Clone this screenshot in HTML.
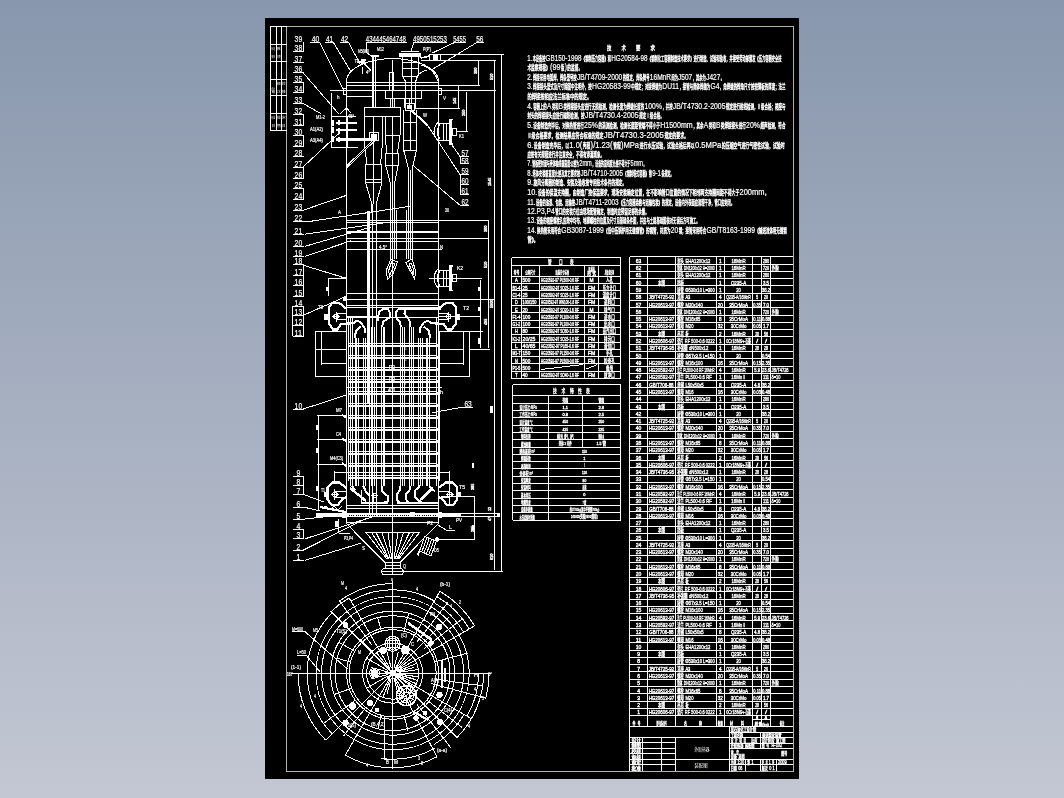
<!DOCTYPE html>
<html><head><meta charset="utf-8"><title>drawing</title>
<style>
html,body{margin:0;padding:0;width:1064px;height:798px;overflow:hidden}
body{background:linear-gradient(to bottom,#8897ad 0%,#c3c7d3 100%)}
svg{position:absolute;left:0;top:0;display:block;will-change:transform}
svg text{font-family:"Liberation Sans","Noto Sans CJK SC",sans-serif;fill:#fff;stroke:none}
svg .g{stroke:#fff;stroke-width:1;fill:none;shape-rendering:crispEdges}
svg .s{stroke:#fff;stroke-width:1;fill:none}
svg text.c{stroke:#fff;stroke-width:.42px}
svg text.d{stroke:#fff;stroke-width:.2px}
svg text.l{stroke:#fff;stroke-width:.22px}
svg .tb text{stroke:#fff;stroke-width:.38px}
</style></head><body>
<svg width="1064" height="798" viewBox="0 0 1064 798">
<rect x="265" y="18" width="534" height="761" fill="#000"/>
<g class="g">
<rect x="286.5" y="26.5" width="507" height="745" stroke="#b4b4a4"/>
<line x1="270.5" y1="26" x2="270.5" y2="131"/>
<line x1="276.5" y1="26" x2="276.5" y2="131"/>
<line x1="281.5" y1="26" x2="281.5" y2="131"/>
<line x1="270" y1="26.5" x2="287" y2="26.5"/>
<line x1="270" y1="44.5" x2="287" y2="44.5"/>
<line x1="270" y1="61.5" x2="287" y2="61.5"/>
<line x1="270" y1="79.5" x2="287" y2="79.5"/>
<line x1="270" y1="95.5" x2="287" y2="95.5"/>
<line x1="270" y1="113.5" x2="287" y2="113.5"/>
<line x1="270" y1="130.5" x2="287" y2="130.5"/>
</g>
<g>
<text x="271.5" y="50" font-size="3.6" textLength="3.6" lengthAdjust="spacingAndGlyphs" fill="#777">标记</text>
<text x="277" y="50" font-size="3.6" textLength="3.6" lengthAdjust="spacingAndGlyphs" fill="#777">数</text>
<text x="271.5" y="58" font-size="3.6" textLength="3.6" lengthAdjust="spacingAndGlyphs" fill="#777">修改</text>
<text x="277" y="58" font-size="3.6" textLength="3.6" lengthAdjust="spacingAndGlyphs" fill="#777">日期</text>
<text x="271.5" y="90" font-size="3.6" textLength="3.6" lengthAdjust="spacingAndGlyphs" fill="#777">设计</text>
<text x="277" y="85" font-size="3.6" textLength="3.6" lengthAdjust="spacingAndGlyphs" fill="#777">制图</text>
<text x="282" y="85" font-size="3.6" textLength="3.6" lengthAdjust="spacingAndGlyphs" fill="#777">校</text>
<text x="271.5" y="93" font-size="3.6" textLength="3.6" lengthAdjust="spacingAndGlyphs" fill="#777">审</text>
<text x="277" y="93" font-size="3.6" textLength="3.6" lengthAdjust="spacingAndGlyphs" fill="#777">工艺</text>
<text x="282" y="93" font-size="3.6" textLength="3.6" lengthAdjust="spacingAndGlyphs" fill="#777">核</text>
<text x="271.5" y="118.5" font-size="3.6" textLength="3.6" lengthAdjust="spacingAndGlyphs" fill="#777">标准</text>
<text x="277" y="118.5" font-size="3.6" textLength="3.6" lengthAdjust="spacingAndGlyphs" fill="#777">批准</text>
<text x="282" y="118.5" font-size="3.6" textLength="3.6" lengthAdjust="spacingAndGlyphs" fill="#777">定</text>
<text x="271.5" y="127" font-size="3.6" textLength="3.6" lengthAdjust="spacingAndGlyphs" fill="#777">日</text>
<text x="277" y="127" font-size="3.6" textLength="3.6" lengthAdjust="spacingAndGlyphs" fill="#777">期</text>
<text x="282" y="127" font-size="3.6" textLength="3.6" lengthAdjust="spacingAndGlyphs" fill="#777">日</text>
</g>
<g class="g">
<line x1="292.5" y1="51.5" x2="303.5" y2="51.5"/>
<line x1="292.5" y1="62.5" x2="303.5" y2="62.5"/>
<line x1="292.5" y1="72.5" x2="303.5" y2="72.5"/>
<line x1="292.5" y1="82.5" x2="303.5" y2="82.5"/>
<line x1="292.5" y1="92.5" x2="303.5" y2="92.5"/>
<line x1="292.5" y1="103.5" x2="303.5" y2="103.5"/>
<line x1="292.5" y1="114.5" x2="303.5" y2="114.5"/>
<line x1="292.5" y1="125.5" x2="303.5" y2="125.5"/>
<line x1="292.5" y1="135.5" x2="303.5" y2="135.5"/>
<line x1="292.5" y1="146.5" x2="303.5" y2="146.5"/>
<line x1="292.5" y1="156.5" x2="303.5" y2="156.5"/>
<line x1="292.5" y1="167.5" x2="303.5" y2="167.5"/>
<line x1="292.5" y1="178.5" x2="303.5" y2="178.5"/>
<line x1="292.5" y1="188.5" x2="303.5" y2="188.5"/>
<line x1="292.5" y1="199.5" x2="303.5" y2="199.5"/>
<line x1="292.5" y1="210.5" x2="303.5" y2="210.5"/>
<line x1="292.5" y1="221.5" x2="309" y2="221.5"/>
<line x1="292.5" y1="234.5" x2="303.5" y2="234.5"/>
<line x1="292.5" y1="246.5" x2="303.5" y2="246.5"/>
<line x1="292.5" y1="256.5" x2="303.5" y2="256.5"/>
<line x1="292.5" y1="264.5" x2="303.5" y2="264.5"/>
<line x1="292.5" y1="275.5" x2="303.5" y2="275.5"/>
<line x1="292.5" y1="285.5" x2="303.5" y2="285.5"/>
<line x1="292.5" y1="296.5" x2="303.5" y2="296.5"/>
<line x1="292.5" y1="306.5" x2="303.5" y2="306.5"/>
<line x1="292.5" y1="315.5" x2="303.5" y2="315.5"/>
<line x1="292.5" y1="325.5" x2="303.5" y2="325.5"/>
<line x1="292.5" y1="336.5" x2="303.5" y2="336.5"/>
<line x1="292.5" y1="409.5" x2="303.5" y2="409.5"/>
<line x1="292.5" y1="476.5" x2="303.5" y2="476.5"/>
<line x1="292.5" y1="485.5" x2="303.5" y2="485.5"/>
<line x1="292.5" y1="494.5" x2="303.5" y2="494.5"/>
<line x1="292.5" y1="507.5" x2="303.5" y2="507.5"/>
<line x1="292.5" y1="519.5" x2="303.5" y2="519.5"/>
<line x1="292.5" y1="529.5" x2="303.5" y2="529.5"/>
<line x1="292.5" y1="538.5" x2="303.5" y2="538.5"/>
<line x1="292.5" y1="550.5" x2="303.5" y2="550.5"/>
<line x1="292.5" y1="560.5" x2="303.5" y2="560.5"/>
<line x1="303.5" y1="42.3" x2="303.5" y2="51.7"/>
<line x1="303.5" y1="82.4" x2="303.5" y2="92.7"/>
<line x1="303.5" y1="114.5" x2="303.5" y2="125.7"/>
<line x1="303.5" y1="135.7" x2="303.5" y2="146.3"/>
<line x1="303.5" y1="167.4" x2="303.5" y2="178.3"/>
<line x1="303.5" y1="188.3" x2="303.5" y2="199.6"/>
<line x1="303.5" y1="264.3" x2="303.5" y2="296"/>
<line x1="303.5" y1="306.3" x2="303.5" y2="336.4"/>
<line x1="303.5" y1="476.3" x2="303.5" y2="494.2"/>
<line x1="303.5" y1="529.6" x2="303.5" y2="538.7"/>
<line x1="292.5" y1="306.3" x2="292.5" y2="336.4"/>
<line x1="309.8" y1="42.5" x2="320.3" y2="42.5"/>
<line x1="324.8" y1="42.5" x2="334" y2="42.5"/>
<line x1="339.9" y1="42.5" x2="349" y2="42.5"/>
<line x1="366" y1="42.5" x2="406.5" y2="42.5"/>
<line x1="412.9" y1="42.5" x2="447" y2="42.5"/>
<line x1="453" y1="42.5" x2="466" y2="42.5"/>
<line x1="476" y1="42.5" x2="483.5" y2="42.5"/>
<line x1="460" y1="156.5" x2="469" y2="156.5"/>
<line x1="460" y1="163.5" x2="469" y2="163.5"/>
<line x1="460" y1="174.5" x2="469" y2="174.5"/>
<line x1="460" y1="184.5" x2="469" y2="184.5"/>
<line x1="460" y1="194.5" x2="469" y2="194.5"/>
<line x1="460" y1="205.5" x2="469" y2="205.5"/>
<line x1="460.5" y1="156.4" x2="460.5" y2="163.9"/>
<line x1="460.5" y1="174.8" x2="460.5" y2="194.2"/>
<line x1="461.2" y1="407.5" x2="472.5" y2="407.5"/>
<line x1="319.8" y1="42.8" x2="343" y2="88.7"/>
<line x1="333.6" y1="42.8" x2="350.5" y2="71.1"/>
<line x1="348.7" y1="42.8" x2="359.9" y2="63.6"/>
<line x1="303" y1="72.6" x2="338.6" y2="113.7"/>
<line x1="303" y1="103.4" x2="321" y2="113.7"/>
<line x1="366.5" y1="42.3" x2="366.5" y2="52.9"/>
<line x1="366.8" y1="52.9" x2="371.5" y2="56"/>
<line x1="413.6" y1="42.8" x2="411" y2="51"/>
<line x1="453.7" y1="42.9" x2="432.4" y2="53"/>
<line x1="476.2" y1="42.9" x2="432.4" y2="69.2"/>
<line x1="303" y1="167" x2="339.9" y2="132.6"/>
<line x1="303" y1="210.3" x2="346.8" y2="195.2"/>
<line x1="308.6" y1="221.6" x2="410" y2="206.3"/>
<line x1="304.8" y1="234.2" x2="390" y2="222"/>
<line x1="304.8" y1="246.4" x2="371.2" y2="227"/>
<line x1="304.8" y1="256.4" x2="351.2" y2="240.7"/>
<line x1="303" y1="265.2" x2="342.4" y2="277.1"/>
<line x1="303" y1="315.5" x2="344.9" y2="296.9"/>
<line x1="303" y1="409.1" x2="346.2" y2="395.1"/>
<line x1="303" y1="494.2" x2="323.6" y2="502"/>
<line x1="303" y1="507" x2="319.8" y2="510.8"/>
<line x1="303" y1="519.2" x2="338.6" y2="515.2"/>
<line x1="305.4" y1="538.7" x2="373.7" y2="516.4"/>
<line x1="303" y1="550.3" x2="367.5" y2="517.7"/>
<line x1="304.8" y1="560.4" x2="361.2" y2="543.1"/>
<line x1="460" y1="156.4" x2="451.2" y2="143.8"/>
<line x1="460" y1="174.5" x2="427.4" y2="125"/>
<line x1="460" y1="205.2" x2="414.2" y2="166.4"/>
<line x1="461.2" y1="407.4" x2="432.4" y2="412.6"/>
<line x1="501.5" y1="54.6" x2="501.5" y2="571.4"/>
<line x1="494.5" y1="61.1" x2="494.5" y2="569.5"/>
<line x1="440.5" y1="54.5" x2="503.8" y2="54.5"/>
<line x1="421" y1="60.5" x2="495.6" y2="60.5"/>
<line x1="478.5" y1="61.1" x2="478.5" y2="85.5"/>
<line x1="346.8" y1="85.5" x2="480" y2="85.5"/>
<line x1="329.9" y1="90.5" x2="495.6" y2="90.5"/>
<line x1="458.5" y1="86.2" x2="458.5" y2="108.1"/>
<line x1="414.8" y1="108.5" x2="460" y2="108.5"/>
<line x1="466.5" y1="92.4" x2="466.5" y2="130.7"/>
<line x1="455.5" y1="131.5" x2="468" y2="131.5"/>
<line x1="438" y1="220.5" x2="488.8" y2="220.5"/>
<line x1="438" y1="238.5" x2="488.8" y2="238.5"/>
<line x1="488.5" y1="220.7" x2="488.5" y2="348.3"/>
<line x1="429.2" y1="278.5" x2="481.9" y2="278.5"/>
<line x1="480.5" y1="280" x2="480.5" y2="348.3"/>
<line x1="346.8" y1="299.5" x2="495" y2="299.5"/>
<line x1="438" y1="316.5" x2="481.2" y2="316.5"/>
<line x1="439.3" y1="331.5" x2="483.1" y2="331.5"/>
<line x1="469.3" y1="349.5" x2="490" y2="349.5"/>
<line x1="441" y1="496.5" x2="475" y2="496.5"/>
<line x1="474.5" y1="496.4" x2="474.5" y2="539"/>
<line x1="436" y1="539.5" x2="475" y2="539.5"/>
<line x1="402.3" y1="571.5" x2="502.5" y2="571.5"/>
<rect x="477.8" y="286.5" width="2.4" height="4.4" fill="#fff" stroke="none"/>
<rect x="477.8" y="306.9" width="2.4" height="3.8" fill="#fff" stroke="none"/>
<rect x="477.8" y="338.3" width="2.4" height="5.6" fill="#fff" stroke="none"/>
<rect x="490.4" y="406.4" width="2.6" height="6.2" fill="#fff" stroke="none"/>
<rect x="472" y="463" width="2.2" height="5" fill="#fff" stroke="none"/>
<rect x="472" y="525" width="2.2" height="5" fill="#fff" stroke="none"/>
<rect x="325.5" y="286.5" width="2.4" height="4.4" fill="#fff" stroke="none"/>
<rect x="315.5" y="425" width="2.2" height="5" fill="#fff" stroke="none"/>
<rect x="315.5" y="448" width="2.2" height="5" fill="#fff" stroke="none"/>
<rect x="316" y="486" width="2.2" height="5" fill="#fff" stroke="none"/>
<path d="M346.5,81.1 A45.7,22.3 0 0 1 438.5,81.1"/>
<line x1="346.5" y1="81" x2="346.5" y2="524"/>
<line x1="438.5" y1="81" x2="438.5" y2="524"/>
<line x1="348.5" y1="317" x2="348.5" y2="481"/>
<line x1="439.5" y1="331" x2="439.5" y2="481"/>
<line x1="346.8" y1="82.5" x2="438" y2="82.5"/>
<line x1="346.8" y1="96.5" x2="372.5" y2="96.5"/>
<rect x="343.5" y="88.5" width="3" height="6"/>
<rect x="438.5" y="88.5" width="3" height="6"/>
<line x1="331.5" y1="93" x2="331.5" y2="148"/>
<rect x="385.5" y="90.5" width="36" height="8"/>
<line x1="390.5" y1="98" x2="390.5" y2="107.5"/>
<line x1="394.5" y1="98" x2="394.5" y2="107.5"/>
<line x1="404.5" y1="98" x2="404.5" y2="107.5"/>
<line x1="409.5" y1="98" x2="409.5" y2="107.5"/>
<line x1="415.5" y1="98" x2="415.5" y2="107.5"/>
<line x1="372.5" y1="57.3" x2="372.5" y2="107.5"/>
<line x1="375.5" y1="57.3" x2="375.5" y2="107.5"/>
<line x1="371" y1="56" x2="379" y2="56" stroke-width="2"/>
<rect x="360.5" y="58.5" width="4" height="5.5" fill="#fff" stroke="none"/>
<line x1="357.5" y1="63" x2="366" y2="60" stroke-width="1.6"/>
<line x1="362.5" y1="66.6" x2="362.5" y2="73.7"/>
<line x1="364.5" y1="64" x2="371" y2="70.5"/>
<line x1="373.5" y1="57.3" x2="373.5" y2="107.5"/>
<line x1="389.5" y1="72.4" x2="389.5" y2="90.5"/>
<line x1="393.5" y1="72.4" x2="393.5" y2="90.5"/>
<line x1="389.4" y1="72.5" x2="393.8" y2="72.5"/>
<line x1="392.5" y1="59.6" x2="392.5" y2="107"/>
<rect x="399.2" y="52.6" width="21.4" height="4.4" fill="#fff" stroke="none"/>
<line x1="401" y1="51.5" x2="419" y2="51.5"/>
<line x1="402.5" y1="56.7" x2="402.5" y2="76"/>
<line x1="418.5" y1="56.7" x2="418.5" y2="76"/>
<line x1="411.5" y1="56.7" x2="411.5" y2="103"/>
<line x1="402.3" y1="62.5" x2="418" y2="62.5"/>
<line x1="402.3" y1="68.5" x2="418" y2="68.5"/>
<line x1="402.3" y1="76.5" x2="418" y2="76.5"/>
<line x1="402.3" y1="76" x2="405.4" y2="81.1"/>
<line x1="418" y1="76" x2="415.4" y2="81.1"/>
<line x1="405.5" y1="81" x2="405.5" y2="103"/>
<line x1="415.5" y1="81" x2="415.5" y2="103"/>
<path d="M416,81 Q417,72 427.4,69.9"/>
<path d="M420.5,64.8 Q434,68 438,81.1"/>
<rect x="429.5" y="54.5" width="11" height="6"/>
<rect x="432.5" y="55" width="5" height="5" fill="#fff" stroke="none"/>
<line x1="420.5" y1="58" x2="430" y2="56" stroke-width="1.6"/>
<rect x="364.5" y="107.5" width="36" height="9"/>
<line x1="364.5" y1="116.2" x2="364.5" y2="143.2"/>
<line x1="373.5" y1="116.2" x2="373.5" y2="143.2"/>
<line x1="382.5" y1="116.2" x2="382.5" y2="143.2"/>
<line x1="364.3" y1="143.2" x2="366.8" y2="163.9"/>
<line x1="382.5" y1="143.2" x2="380.6" y2="163.9"/>
<rect x="365.5" y="164.5" width="16" height="15"/>
<line x1="365.6" y1="182.5" x2="381.9" y2="182.5"/>
<line x1="365.5" y1="179" x2="365.5" y2="182.7"/>
<line x1="381.5" y1="179" x2="381.5" y2="182.7"/>
<line x1="373.5" y1="143" x2="373.5" y2="204"/>
<line x1="365.6" y1="182.7" x2="371.8" y2="204"/>
<line x1="381.9" y1="182.7" x2="376.2" y2="204"/>
<line x1="371.5" y1="204" x2="371.5" y2="212"/>
<line x1="376.5" y1="204" x2="376.5" y2="515"/>
<line x1="368.8" y1="211.3" x2="368.8" y2="404" stroke-width="2.8"/>
<line x1="369.5" y1="404" x2="369.5" y2="515"/>
<line x1="372.5" y1="204" x2="372.5" y2="515"/>
<line x1="385.5" y1="116.2" x2="385.5" y2="135"/>
<line x1="392.5" y1="116.2" x2="392.5" y2="135"/>
<line x1="400.5" y1="116.2" x2="400.5" y2="135"/>
<line x1="385.6" y1="135.5" x2="400" y2="135.5"/>
<line x1="385.6" y1="135" x2="386.3" y2="152.6"/>
<line x1="400" y1="135" x2="397.5" y2="152.6"/>
<rect x="385.5" y="153.5" width="13" height="12"/>
<line x1="385.6" y1="165.1" x2="390.6" y2="183.9"/>
<line x1="398.2" y1="165.1" x2="394.4" y2="183.9"/>
<line x1="390.5" y1="183.9" x2="390.5" y2="259"/>
<line x1="392.5" y1="183.9" x2="392.5" y2="259"/>
<line x1="394.5" y1="183.9" x2="394.5" y2="259"/>
<line x1="392.5" y1="135" x2="392.5" y2="183.9"/>
<line x1="396.5" y1="210" x2="396.5" y2="259" stroke-width="1.6"/>
<rect x="405.5" y="103.5" width="9" height="7"/>
<rect x="407" y="104.5" width="5" height="4.5" fill="#fff" stroke="none"/>
<line x1="403.5" y1="110" x2="403.5" y2="150.7"/>
<line x1="410.5" y1="110" x2="410.5" y2="150.7"/>
<line x1="416.5" y1="110" x2="416.5" y2="150.7"/>
<line x1="403.8" y1="140.5" x2="416.3" y2="140.5"/>
<line x1="403.8" y1="150.5" x2="416.3" y2="150.5"/>
<line x1="403.8" y1="122.5" x2="416.3" y2="122.5"/>
<line x1="403.8" y1="150.7" x2="408.8" y2="170.2"/>
<line x1="416.3" y1="150.7" x2="412" y2="170.2"/>
<line x1="406.5" y1="210" x2="406.5" y2="259"/>
<line x1="408.5" y1="170.2" x2="408.5" y2="259"/>
<line x1="410.5" y1="170.2" x2="410.5" y2="259"/>
<line x1="412.5" y1="170.2" x2="412.5" y2="259"/>
<line x1="411" y1="110" x2="427.4" y2="125" stroke-width="2"/>
<rect x="369.5" y="132.5" width="9" height="8"/>
<rect x="371" y="134" width="5.5" height="5.5" fill="#fff" stroke="none"/>
<line x1="346.8" y1="165.8" x2="373.7" y2="139.4"/>
<line x1="346.8" y1="167.8" x2="375.5" y2="140"/>
<rect x="331.5" y="116.5" width="16" height="31"/>
<line x1="335.5" y1="122.5" x2="357.4" y2="122.5" stroke-width="2"/>
<line x1="335.5" y1="130" x2="357.4" y2="130" stroke-width="2"/>
<line x1="335.5" y1="139.4" x2="373.7" y2="139.4" stroke-width="2.6"/>
<line x1="333.2" y1="119.5" x2="333.2" y2="125.5" stroke-width="2.2"/>
<line x1="339" y1="120" x2="339" y2="125" stroke-width="1.6"/>
<line x1="333.2" y1="127" x2="333.2" y2="133" stroke-width="2.2"/>
<line x1="339" y1="127.5" x2="339" y2="132.5" stroke-width="1.6"/>
<line x1="333.2" y1="136.4" x2="333.2" y2="142.4" stroke-width="2.2"/>
<line x1="339" y1="136.9" x2="339" y2="141.9" stroke-width="1.6"/>
<line x1="346.8" y1="147.5" x2="358" y2="147.5"/>
<line x1="346.8" y1="116.5" x2="356" y2="116.5"/>
<line x1="340" y1="113.7" x2="346.5" y2="108"/>
<line x1="346.5" y1="108" x2="351" y2="113"/>
<line x1="450.5" y1="119.4" x2="450.5" y2="143.8" stroke-width="2.4"/>
<line x1="438" y1="123.5" x2="449.5" y2="123.5"/>
<line x1="438" y1="140.5" x2="449.5" y2="140.5"/>
<line x1="443.5" y1="123.8" x2="443.5" y2="140"/>
<line x1="446.5" y1="123.8" x2="446.5" y2="140"/>
<path d="M438,122.1 Q430,131.6 438,141.1"/>
<path d="M440,124.1 Q434.5,131.6 440,139.1"/>
<rect x="452.5" y="128.5" width="4" height="7"/>
<line x1="448.5" y1="119.4" x2="452.5" y2="119.4" stroke-width="1.6"/>
<line x1="448.5" y1="143.8" x2="452.5" y2="143.8" stroke-width="1.6"/>
<line x1="450.5" y1="266.1" x2="450.5" y2="290.5" stroke-width="2.4"/>
<line x1="438" y1="270.5" x2="449.5" y2="270.5"/>
<line x1="438" y1="286.5" x2="449.5" y2="286.5"/>
<line x1="443.5" y1="270.5" x2="443.5" y2="286.7"/>
<line x1="446.5" y1="270.5" x2="446.5" y2="286.7"/>
<path d="M438,268.8 Q430,278.3 438,287.8"/>
<path d="M440,270.8 Q434.5,278.3 440,285.8"/>
<rect x="452.5" y="274.5" width="4" height="7"/>
<line x1="448.5" y1="266.1" x2="452.5" y2="266.1" stroke-width="1.6"/>
<line x1="448.5" y1="290.5" x2="452.5" y2="290.5" stroke-width="1.6"/>
<path d="M391,259 L386,271 L387.5,279 L392.5,275 L397.5,262 Z"/>
<path d="M391.5,262 L388.5,271 L389.5,275.5 L395,264 Z"/>
<line x1="392.5" y1="259" x2="392.5" y2="278"/>
<path d="M411.5,259 L406,262.7 L414.5,279 L415.7,271 L412,259 Z"/>
<path d="M409,264 L413.5,275 L414,270 L411,263 Z"/>
<line x1="346.8" y1="220.5" x2="438" y2="220.5"/>
<line x1="346.8" y1="222.5" x2="438" y2="222.5"/>
<line x1="346.8" y1="232.2" x2="438" y2="232.2" stroke-width="1.6"/>
<line x1="346.8" y1="238.5" x2="438" y2="238.5"/>
<line x1="346.8" y1="241.5" x2="438" y2="241.5"/>
<line x1="346.8" y1="249.5" x2="442.4" y2="249.5"/>
<line x1="346.8" y1="293.5" x2="438" y2="293.5"/>
<line x1="346.8" y1="305.5" x2="438" y2="305.5"/>
<line x1="346.8" y1="307.5" x2="438" y2="307.5"/>
<line x1="346.8" y1="317.5" x2="438" y2="317.5"/>
<line x1="346.8" y1="317" x2="378" y2="317" stroke-width="1.6"/>
<line x1="398" y1="309.2" x2="441" y2="309.2" stroke-width="2"/>
<line x1="340.5" y1="277.8" x2="347.4" y2="277.8" stroke-width="2.6"/>
<line x1="328.4" y1="278.5" x2="340.5" y2="278.5"/>
<line x1="328.5" y1="278.3" x2="328.5" y2="296"/>
<line x1="344" y1="296.9" x2="347" y2="296.9" stroke-width="2.4"/>
<line x1="343" y1="299.4" x2="347" y2="299.4" stroke-width="2.4"/>
<path d="M346.5,308.8 L338.6,302.6 L332.4,302.6 L329.2,307 L329.2,323.9 L333,329.5 L337.4,329.5 L341.1,323.9 L353.7,323.2" stroke-width="2.2"/>
<path d="M438.3,308.8 L446.2,302.6 L452.4,302.6 L455.6,307 L455.6,323.9 L451.8,329.5 L447.4,329.5 L443.7,323.9 L431.1,323.2" stroke-width="2.2"/>
<circle cx="336" cy="316.5" r="2.3"/>
<line x1="332" y1="316.5" x2="340" y2="316.5"/>
<line x1="336.5" y1="311.5" x2="336.5" y2="321.5"/>
<rect x="324.4" y="313.8" width="3.4" height="5.7" fill="#fff" stroke="none"/>
<line x1="336" y1="313.5" x2="346.8" y2="313.5"/>
<line x1="336" y1="319.5" x2="346.8" y2="319.5"/>
<circle cx="448.8" cy="316.5" r="2.3"/>
<line x1="444.8" y1="316.5" x2="452.8" y2="316.5"/>
<line x1="448.5" y1="311.5" x2="448.5" y2="321.5"/>
<rect x="457" y="313.8" width="3.4" height="5.7" fill="#fff" stroke="none"/>
<line x1="438" y1="313.5" x2="448.8" y2="313.5"/>
<line x1="438" y1="319.5" x2="448.8" y2="319.5"/>
<rect x="315.5" y="331.5" width="31" height="45"/>
<line x1="321.5" y1="330.6" x2="321.5" y2="364.5"/>
<line x1="315.4" y1="349.5" x2="346.5" y2="349.5"/>
<line x1="321.5" y1="363.5" x2="346.5" y2="363.5"/>
<rect x="439.5" y="331.5" width="30" height="45"/>
<line x1="463.5" y1="330.6" x2="463.5" y2="364.5"/>
<line x1="439.3" y1="349.5" x2="463.5" y2="349.5"/>
<line x1="439.3" y1="363.5" x2="463.5" y2="363.5"/>
<path d="M377.5,321 L379,312 L383,309.2 L388,309.2 L390,313 L389.5,317.5 L383.5,321.5 L381.9,327" stroke-width="2"/>
<path d="M398,309.2 L395.5,313 L395.5,317 L400.2,322 L400.7,327" stroke-width="2"/>
<path d="M405,309.2 L404.5,313.5 L409.5,320.5 L410,327" stroke-width="2"/>
<path d="M353.7,323.2 L357,320.5 L361,322.5 L364.5,328 L365,333" stroke-width="2"/>
<path d="M354.5,338.5 L356,331 L361,326.5" stroke-width="2"/>
<path d="M431.1,323.2 L427.8,320.5 L423.8,322.5 L420.3,328 L419.8,333" stroke-width="2"/>
<path d="M430.3,338.5 L428.8,331 L423.8,326.5" stroke-width="2"/>
<line x1="350.5" y1="318" x2="350.5" y2="486"/>
<line x1="352.5" y1="318" x2="352.5" y2="486"/>
<line x1="355.5" y1="338" x2="355.5" y2="486"/>
<line x1="358.5" y1="338" x2="358.5" y2="486"/>
<line x1="363.5" y1="338" x2="363.5" y2="486"/>
<line x1="365.5" y1="338" x2="365.5" y2="486"/>
<line x1="371.5" y1="327" x2="371.5" y2="486"/>
<line x1="374.5" y1="327" x2="374.5" y2="486"/>
<line x1="381.5" y1="327" x2="381.5" y2="486"/>
<line x1="383.5" y1="327" x2="383.5" y2="486"/>
<line x1="384.5" y1="327" x2="384.5" y2="486"/>
<line x1="392.5" y1="232" x2="392.5" y2="486"/>
<line x1="400.5" y1="327" x2="400.5" y2="486"/>
<line x1="402.5" y1="327" x2="402.5" y2="486"/>
<line x1="404.5" y1="327" x2="404.5" y2="486"/>
<line x1="409.5" y1="327" x2="409.5" y2="486"/>
<line x1="411.5" y1="327" x2="411.5" y2="486"/>
<line x1="413.5" y1="327" x2="413.5" y2="486"/>
<line x1="418.5" y1="338" x2="418.5" y2="486"/>
<line x1="420.5" y1="338" x2="420.5" y2="486"/>
<line x1="422.5" y1="338" x2="422.5" y2="486"/>
<line x1="426.5" y1="338" x2="426.5" y2="486"/>
<line x1="427.5" y1="338" x2="427.5" y2="486"/>
<line x1="429.5" y1="338" x2="429.5" y2="486"/>
<line x1="436.5" y1="318" x2="436.5" y2="486"/>
<line x1="356.4" y1="338" x2="356.4" y2="486" stroke-width="1.8"/>
<line x1="348.7" y1="343.5" x2="436.6" y2="343.5"/>
<line x1="348.7" y1="345.5" x2="436.6" y2="345.5"/>
<line x1="348.7" y1="346.5" x2="436.6" y2="346.5"/>
<line x1="348.7" y1="343.5" x2="348.7" y2="345.5"/>
<line x1="437" y1="343.5" x2="437" y2="346.5"/>
<line x1="348.7" y1="355.5" x2="436.6" y2="355.5"/>
<line x1="348.7" y1="357.5" x2="436.6" y2="357.5"/>
<line x1="348.7" y1="358.5" x2="436.6" y2="358.5"/>
<line x1="348.7" y1="355.5" x2="348.7" y2="357.5"/>
<line x1="437" y1="355.5" x2="437" y2="358.5"/>
<line x1="348.7" y1="367.5" x2="436.6" y2="367.5"/>
<line x1="348.7" y1="369.5" x2="436.6" y2="369.5"/>
<line x1="348.7" y1="370.5" x2="436.6" y2="370.5"/>
<line x1="348.7" y1="367.5" x2="348.7" y2="369.5"/>
<line x1="437" y1="367.5" x2="437" y2="370.5"/>
<line x1="348.7" y1="379.5" x2="436.6" y2="379.5"/>
<line x1="348.7" y1="381.5" x2="436.6" y2="381.5"/>
<line x1="348.7" y1="382.5" x2="436.6" y2="382.5"/>
<line x1="348.7" y1="379.5" x2="348.7" y2="381.5"/>
<line x1="437" y1="379.5" x2="437" y2="382.5"/>
<line x1="348.7" y1="391.5" x2="436.6" y2="391.5"/>
<line x1="348.7" y1="393.5" x2="436.6" y2="393.5"/>
<line x1="348.7" y1="394.5" x2="436.6" y2="394.5"/>
<line x1="348.7" y1="391.5" x2="348.7" y2="393.5"/>
<line x1="437" y1="391.5" x2="437" y2="394.5"/>
<line x1="348.7" y1="403.5" x2="436.6" y2="403.5"/>
<line x1="348.7" y1="405.5" x2="436.6" y2="405.5"/>
<line x1="348.7" y1="406.5" x2="436.6" y2="406.5"/>
<line x1="348.7" y1="403.5" x2="348.7" y2="405.5"/>
<line x1="437" y1="403.5" x2="437" y2="406.5"/>
<line x1="348.7" y1="415.5" x2="436.6" y2="415.5"/>
<line x1="348.7" y1="417.5" x2="436.6" y2="417.5"/>
<line x1="348.7" y1="418.5" x2="436.6" y2="418.5"/>
<line x1="348.7" y1="415.5" x2="348.7" y2="417.5"/>
<line x1="437" y1="415.5" x2="437" y2="418.5"/>
<line x1="348.7" y1="427.5" x2="436.6" y2="427.5"/>
<line x1="348.7" y1="429.5" x2="436.6" y2="429.5"/>
<line x1="348.7" y1="430.5" x2="436.6" y2="430.5"/>
<line x1="348.7" y1="427.5" x2="348.7" y2="429.5"/>
<line x1="437" y1="427.5" x2="437" y2="430.5"/>
<line x1="348.7" y1="439.5" x2="436.6" y2="439.5"/>
<line x1="348.7" y1="441.5" x2="436.6" y2="441.5"/>
<line x1="348.7" y1="442.5" x2="436.6" y2="442.5"/>
<line x1="348.7" y1="439.5" x2="348.7" y2="441.5"/>
<line x1="437" y1="439.5" x2="437" y2="442.5"/>
<line x1="348.7" y1="451.5" x2="436.6" y2="451.5"/>
<line x1="348.7" y1="453.5" x2="436.6" y2="453.5"/>
<line x1="348.7" y1="454.5" x2="436.6" y2="454.5"/>
<line x1="348.7" y1="451.5" x2="348.7" y2="453.5"/>
<line x1="437" y1="451.5" x2="437" y2="454.5"/>
<line x1="348.7" y1="463.5" x2="436.6" y2="463.5"/>
<line x1="348.7" y1="465.5" x2="436.6" y2="465.5"/>
<line x1="348.7" y1="466.5" x2="436.6" y2="466.5"/>
<line x1="348.7" y1="463.5" x2="348.7" y2="465.5"/>
<line x1="437" y1="463.5" x2="437" y2="466.5"/>
<line x1="348.7" y1="475.5" x2="436.6" y2="475.5"/>
<line x1="348.7" y1="477.5" x2="436.6" y2="477.5"/>
<line x1="348.7" y1="478.5" x2="436.6" y2="478.5"/>
<line x1="348.7" y1="475.5" x2="348.7" y2="477.5"/>
<line x1="437" y1="475.5" x2="437" y2="478.5"/>
<line x1="315.4" y1="376.5" x2="469.3" y2="376.5"/>
<line x1="346.8" y1="387.5" x2="442" y2="387.5"/>
<line x1="334.2" y1="472.5" x2="449.3" y2="472.5"/>
<line x1="334.5" y1="471.3" x2="334.5" y2="483"/>
<line x1="449.5" y1="471.3" x2="449.5" y2="504"/>
<line x1="316.7" y1="415.5" x2="346.8" y2="415.5"/>
<line x1="342" y1="414.3" x2="346.5" y2="418.3" stroke-width="1.6"/>
<line x1="316.7" y1="439.5" x2="346.8" y2="439.5"/>
<line x1="342" y1="438.1" x2="346.5" y2="442.1" stroke-width="1.6"/>
<line x1="316.7" y1="464.5" x2="346.8" y2="464.5"/>
<line x1="342" y1="462.5" x2="346.5" y2="466.5" stroke-width="1.6"/>
<line x1="318.5" y1="415.8" x2="318.5" y2="511.4"/>
<path d="M381.9,486 L382.5,492 L388.5,496.5 L388,501 L384,502.6" stroke-width="2"/>
<path d="M361,502.6 L388.2,502.6" stroke-width="2"/>
<path d="M400.4,486 L400,490 L396.5,495 L397,500.5 L400,502.6" stroke-width="2"/>
<path d="M410,486 L409.5,490 L405.5,495 L406,499.5 L408.5,502.6" stroke-width="2"/>
<path d="M420,486 L415,490.5 L414.5,496 L418.5,501 L422,502.6" stroke-width="2"/>
<path d="M429.5,486 L431,489 L435,491" stroke-width="2"/>
<path d="M397.2,502.6 L438,502.6" stroke-width="2"/>
<line x1="420" y1="500" x2="433" y2="488" stroke-width="2.8"/>
<line x1="350" y1="488" x2="366" y2="501" stroke-width="2.4"/>
<path d="M352,486 L355,490" stroke-width="2"/>
<path d="M363.3,486 L366,492 L370,496" stroke-width="2"/>
<line x1="361" y1="490" x2="361" y2="503"/>
<line x1="373.7" y1="493" x2="373.7" y2="502"/>
<circle cx="374.2" cy="495.5" r="2.2"/>
<line x1="370.5" y1="495.5" x2="378" y2="495.5"/>
<path d="M346.5,488 L339,482.5 L332.5,482.5 L327.5,487.5 L327.5,499.5 L331.5,504.8 L338,504.8 L342,499.5 L346.5,497" stroke-width="2.2"/>
<path d="M438.3,488 L445.8,482.5 L452.3,482.5 L457.3,487.5 L457.3,499.5 L453.3,504.8 L446.8,504.8 L442.8,499.5 L438.3,497" stroke-width="2.2"/>
<circle cx="334.9" cy="494.5" r="2.3"/>
<line x1="330.9" y1="494.5" x2="338.9" y2="494.5"/>
<line x1="334.5" y1="489" x2="334.5" y2="500"/>
<rect x="323.8" y="492" width="3.2" height="5" fill="#fff" stroke="none"/>
<line x1="334.9" y1="491.5" x2="346.8" y2="491.5"/>
<line x1="334.9" y1="497.5" x2="346.8" y2="497.5"/>
<circle cx="449.9" cy="494.5" r="2.3"/>
<line x1="445.9" y1="494.5" x2="453.9" y2="494.5"/>
<line x1="449.5" y1="489" x2="449.5" y2="500"/>
<rect x="457.8" y="492" width="3.2" height="5" fill="#fff" stroke="none"/>
<line x1="438" y1="491.5" x2="449.9" y2="491.5"/>
<line x1="438" y1="497.5" x2="449.9" y2="497.5"/>
<line x1="346.8" y1="505.5" x2="438" y2="505.5"/>
<line x1="346.8" y1="508.5" x2="438" y2="508.5"/>
<line x1="316" y1="515.2" x2="461.2" y2="515.2" stroke-width="4.4"/>
<line x1="349" y1="515.2" x2="436" y2="515.2" stroke="#000" stroke-width="1" stroke-dasharray="1 1.2"/>
<line x1="461" y1="513.5" x2="496.5" y2="513.5"/>
<line x1="461" y1="516.5" x2="496.5" y2="516.5"/>
<rect x="497" y="513.2" width="3.2" height="4" fill="#fff" stroke="none"/>
<line x1="346.8" y1="522.5" x2="438" y2="522.5"/>
<circle cx="412.5" cy="514.5" r="2.2" fill="#fff"/>
<circle cx="344.5" cy="515" r="2.6" fill="#fff"/>
<circle cx="440" cy="515" r="2.6" fill="#fff"/>
<line x1="320" y1="507" x2="346" y2="512" stroke-width="2.2"/>
<path d="M322,509 L326,506 L330,510 L334,506 L338,510 L342,506"/>
<line x1="346.8" y1="524" x2="385" y2="562.6"/>
<line x1="438" y1="524" x2="400" y2="562.6"/>
<line x1="365" y1="532.5" x2="419.8" y2="532.5"/>
<line x1="366" y1="532.5" x2="386.98" y2="559"/>
<line x1="371.5" y1="532.5" x2="388.19" y2="559"/>
<line x1="376" y1="532.5" x2="389.18" y2="559"/>
<line x1="382" y1="532.5" x2="390.5" y2="559"/>
<line x1="388" y1="532.5" x2="391.82" y2="559"/>
<line x1="398" y1="532.5" x2="394.02" y2="559"/>
<line x1="403.5" y1="532.5" x2="395.23" y2="559"/>
<line x1="409.5" y1="532.5" x2="396.55" y2="559"/>
<line x1="414" y1="532.5" x2="397.54" y2="559"/>
<line x1="419.5" y1="532.5" x2="398.75" y2="559"/>
<line x1="392.5" y1="232" x2="392.5" y2="575"/>
<path d="M424.5,536.5 L436.5,541 L431,556 L419.5,551 Z"/>
<line x1="426.9" y1="537.4" x2="421.8" y2="552"/>
<line x1="429.3" y1="538.3" x2="424.1" y2="553"/>
<line x1="431.7" y1="539.2" x2="426.4" y2="554"/>
<line x1="434.1" y1="540.1" x2="428.7" y2="555"/>
<circle cx="437" cy="539.5" r="1.8" fill="#fff"/>
<line x1="419.5" y1="551" x2="417.5" y2="555.5" stroke-width="2"/>
<line x1="438" y1="525" x2="446" y2="530"/>
<line x1="446" y1="530.5" x2="455" y2="530.5"/>
<rect x="334.5" y="521" width="4" height="6" fill="#fff" stroke="none"/>
<line x1="338.5" y1="519" x2="338.5" y2="533"/>
<line x1="338.8" y1="533" x2="350" y2="533"/>
<rect x="385.5" y="562.5" width="15" height="6"/>
<line x1="385" y1="565.5" x2="400" y2="565.5"/>
<path d="M383,568.8 H402 Q404.5,571.6 402,574.5 H383 Q380.5,571.6 383,568.8 Z"/>
<line x1="381" y1="571.5" x2="404" y2="571.5"/>
</g>
<g class="g">
<line x1="290.5" y1="673.5" x2="491.3" y2="673.5"/>
<line x1="392.5" y1="580.5" x2="392.5" y2="768.5"/>
<circle cx="392.6" cy="673.2" r="43.6"/>
<circle cx="392.6" cy="673.2" r="46"/>
<circle cx="392.6" cy="673.2" r="57.4"/>
<circle cx="392.6" cy="673.2" r="62"/>
<circle cx="392.6" cy="673.2" r="71"/>
<circle cx="392.6" cy="673.2" r="76.6"/>
<circle cx="392.6" cy="673.2" r="26"/>
<circle cx="392.6" cy="673.2" r="30"/>
<path d="M434.35,600.89 A83.5,83.5 0 0 0 350.85,600.89"/>
<path d="M392.6,583.7 A89.5,89.5 0 0 0 339.61,601.07"/>
<path d="M349.1,597.86 A87,87 0 0 0 331.08,611.68"/>
<path d="M332.14,612.74 A85.5,85.5 0 0 0 332.14,733.66"/>
<path d="M298,673.2 A94.6,94.6 0 0 0 325.71,740.09"/>
<path d="M474.53,625.9 A94.6,94.6 0 0 0 439.9,591.27"/>
<path d="M469.24,628.95 A88.5,88.5 0 0 0 436.85,596.56"/>
<path d="M463.61,632.2 A82,82 0 0 0 433.6,602.19"/>
<path d="M345.3,755.13 A94.6,94.6 0 0 0 437.01,756.73"/>
<path d="M380.63,758.36 A86,86 0 0 0 435.6,747.68"/>
<path d="M456.95,737.55 A91,91 0 0 0 483.6,673.2"/>
<path d="M467.08,716.2 A86,86 0 0 0 478.6,673.2"/>
<path d="M485.81,698.18 A96.5,96.5 0 0 0 489.1,673.2"/>
<path d="M433.85,744.65 A82.5,82.5 0 0 0 464.05,714.45"/>
<line x1="371.88" y1="644.99" x2="339.02" y2="600.26"/>
<line x1="377.6" y1="647.22" x2="348.85" y2="597.42"/>
<line x1="371.39" y1="651.99" x2="330.37" y2="610.97"/>
<line x1="407.6" y1="647.22" x2="439.9" y2="591.27"/>
<line x1="418.58" y1="658.2" x2="474.87" y2="625.7"/>
<line x1="406.74" y1="659.06" x2="449.17" y2="616.63"/>
<line x1="417.23" y1="641.68" x2="448.01" y2="602.28"/>
<line x1="424.12" y1="648.57" x2="463.52" y2="617.79"/>
<line x1="371.39" y1="694.41" x2="325.42" y2="740.38"/>
<line x1="377.6" y1="699.18" x2="345.3" y2="755.13"/>
<line x1="356.19" y1="699.65" x2="323.02" y2="723.75"/>
<line x1="364.9" y1="708.66" x2="343.35" y2="736.24"/>
<line x1="406.68" y1="699.69" x2="437.01" y2="756.73"/>
<line x1="417.23" y1="704.72" x2="451.09" y2="748.06"/>
<line x1="413.81" y1="694.41" x2="457.65" y2="738.25"/>
<line x1="418.58" y1="688.2" x2="472.27" y2="719.2"/>
<line x1="431.24" y1="683.55" x2="486.29" y2="698.31"/>
<line x1="427.27" y1="700.29" x2="461.94" y2="727.38"/>
<line x1="354.49" y1="651.2" x2="338.91" y2="642.2"/>
<line x1="350.1" y1="661.81" x2="336.58" y2="658.19"/>
<line x1="351.25" y1="688.25" x2="334.34" y2="694.41"/>
<line x1="381.21" y1="715.7" x2="377.59" y2="729.22"/>
<line x1="403.99" y1="715.7" x2="408.13" y2="731.16"/>
<line x1="403.99" y1="630.7" x2="408.65" y2="613.31"/>
<line x1="381.21" y1="630.7" x2="377.59" y2="617.18"/>
<line x1="435.1" y1="661.81" x2="467.94" y2="653.01"/>
<line x1="436.17" y1="679.32" x2="481.72" y2="685.73"/>
<line x1="392.6" y1="673.2" x2="435.6" y2="673.2"/>
<line x1="397.43" y1="671.91" x2="413.85" y2="667.51"/>
<line x1="396.93" y1="670.7" x2="418.58" y2="658.2"/>
<line x1="392.6" y1="673.2" x2="423.01" y2="642.79"/>
<line x1="395.1" y1="668.87" x2="407.6" y2="647.22"/>
<line x1="393.89" y1="668.37" x2="398.29" y2="651.95"/>
<line x1="392.6" y1="673.2" x2="392.6" y2="630.2"/>
<line x1="391.31" y1="668.37" x2="386.91" y2="651.95"/>
<line x1="390.1" y1="668.87" x2="377.6" y2="647.22"/>
<line x1="392.6" y1="673.2" x2="362.19" y2="642.79"/>
<line x1="388.27" y1="670.7" x2="366.62" y2="658.2"/>
<line x1="387.77" y1="671.91" x2="371.35" y2="667.51"/>
<line x1="392.6" y1="673.2" x2="349.6" y2="673.2"/>
<line x1="387.77" y1="674.49" x2="371.35" y2="678.89"/>
<line x1="388.27" y1="675.7" x2="366.62" y2="688.2"/>
<line x1="392.6" y1="673.2" x2="362.19" y2="703.61"/>
<line x1="390.1" y1="677.53" x2="377.6" y2="699.18"/>
<line x1="391.31" y1="678.03" x2="386.91" y2="694.45"/>
<line x1="392.6" y1="673.2" x2="392.6" y2="716.2"/>
<line x1="393.89" y1="678.03" x2="398.29" y2="694.45"/>
<line x1="395.1" y1="677.53" x2="407.6" y2="699.18"/>
<line x1="392.6" y1="673.2" x2="423.01" y2="703.61"/>
<line x1="396.93" y1="675.7" x2="418.58" y2="688.2"/>
<line x1="397.43" y1="674.49" x2="413.85" y2="678.89"/>
<line x1="398.54" y1="672.36" x2="418.35" y2="669.58"/>
<line x1="398.16" y1="670.95" x2="416.71" y2="663.46"/>
<line x1="397.33" y1="669.51" x2="413.09" y2="657.19"/>
<line x1="396.29" y1="668.47" x2="408.61" y2="652.71"/>
<line x1="398.54" y1="674.04" x2="418.35" y2="676.82"/>
<line x1="398.37" y1="674.85" x2="417.59" y2="680.37"/>
<line x1="398.08" y1="675.64" x2="416.35" y2="683.78"/>
<line x1="397.57" y1="676.56" x2="414.15" y2="687.74"/>
<line x1="388.91" y1="668.47" x2="376.59" y2="652.71"/>
<line x1="390.35" y1="678.76" x2="382.86" y2="697.31"/>
<line x1="394.85" y1="678.76" x2="402.34" y2="697.31"/>
<circle cx="392.6" cy="673.2" r="2.6" fill="#fff"/>
<line x1="392.6" y1="673.2" x2="398.26" y2="667.54" stroke-width="2"/>
<line x1="392.6" y1="673.2" x2="384.6" y2="673.2" stroke-width="2"/>
<line x1="392.6" y1="673.2" x2="386.94" y2="678.86" stroke-width="2"/>
<line x1="392.6" y1="673.2" x2="400.12" y2="675.94" stroke-width="2"/>
<circle cx="392.6" cy="643.7" r="7.6"/>
<circle cx="392.6" cy="643.7" r="5.6"/>
<line x1="384" y1="643.5" x2="401" y2="643.5"/>
<line x1="386" y1="640.5" x2="399" y2="640.5"/>
<line x1="386" y1="647.5" x2="399" y2="647.5"/>
<line x1="389.5" y1="637" x2="389.5" y2="650.5"/>
<line x1="395.5" y1="637" x2="395.5" y2="650.5"/>
<circle cx="406.4" cy="695.7" r="10" stroke-width="1.6"/>
<circle cx="406.4" cy="695.7" r="7"/>
<circle cx="406.4" cy="695.7" r="3"/>
<line x1="409.4" y1="695.7" x2="416.4" y2="695.7"/>
<line x1="409" y1="694.2" x2="415.06" y2="690.7"/>
<line x1="407.9" y1="693.1" x2="411.4" y2="687.04"/>
<line x1="406.4" y1="692.7" x2="406.4" y2="685.7"/>
<line x1="404.9" y1="693.1" x2="401.4" y2="687.04"/>
<line x1="403.8" y1="694.2" x2="397.74" y2="690.7"/>
<line x1="403.4" y1="695.7" x2="396.4" y2="695.7"/>
<line x1="403.8" y1="697.2" x2="397.74" y2="700.7"/>
<line x1="404.9" y1="698.3" x2="401.4" y2="704.36"/>
<line x1="406.4" y1="698.7" x2="406.4" y2="705.7"/>
<line x1="407.9" y1="698.3" x2="411.4" y2="704.36"/>
<line x1="409" y1="697.2" x2="415.06" y2="700.7"/>
<circle cx="374.5" cy="673.2" r="3.4" fill="#fff"/>
<circle cx="374.5" cy="673.2" r="5"/>
<circle cx="405.2" cy="650" r="4" fill="#fff"/>
<circle cx="383" cy="650.5" r="3.2" fill="#fff"/>
<circle cx="352.5" cy="706" r="3.2" fill="#fff"/>
<circle cx="345.5" cy="625" r="2.2" fill="#fff"/>
<circle cx="345.5" cy="723" r="2.6" fill="#fff"/>
<circle cx="439" cy="627" r="2.6" fill="#fff"/>
<circle cx="439.5" cy="695" r="2.6" fill="#fff"/>
<circle cx="440" cy="722" r="2.4" fill="#fff"/>
<circle cx="431" cy="643" r="2.2" fill="#fff"/>
<circle cx="370" cy="703" r="2.4" fill="#fff"/>
<circle cx="377" cy="710" r="2" fill="#fff"/>
<circle cx="416" cy="718" r="2.2" fill="#fff"/>
<circle cx="425" cy="713" r="2" fill="#fff"/>
<line x1="408" y1="623" x2="432" y2="640" stroke-width="2.6"/>
<line x1="441.8" y1="660" x2="441.8" y2="688" stroke-width="2.4"/>
<line x1="445" y1="668" x2="445" y2="682" stroke-width="1.6"/>
<line x1="414" y1="712" x2="428" y2="720" stroke-width="2.2"/>
<line x1="360" y1="640" x2="372" y2="652" stroke-width="2"/>
<line x1="304.8" y1="631.5" x2="347.4" y2="669"/>
<line x1="292" y1="631.5" x2="305" y2="631.5"/>
<line x1="306" y1="655" x2="319.8" y2="671.5"/>
<line x1="297" y1="655.5" x2="306" y2="655.5"/>
<line x1="384.5" y1="716" x2="384.5" y2="760"/>
<line x1="384.4" y1="759.5" x2="393" y2="759.5"/>
</g>
<g>
<text x="294.6" y="41.9" font-size="8.6" textLength="7.6" lengthAdjust="spacingAndGlyphs" class="d">39</text>
<text x="294.6" y="51.3" font-size="8.6" textLength="7.6" lengthAdjust="spacingAndGlyphs" class="d">38</text>
<text x="294.6" y="61.9" font-size="8.6" textLength="7.6" lengthAdjust="spacingAndGlyphs" class="d">37</text>
<text x="294.6" y="72.2" font-size="8.6" textLength="7.6" lengthAdjust="spacingAndGlyphs" class="d">36</text>
<text x="294.6" y="82" font-size="8.6" textLength="7.6" lengthAdjust="spacingAndGlyphs" class="d">35</text>
<text x="294.6" y="92.3" font-size="8.6" textLength="7.6" lengthAdjust="spacingAndGlyphs" class="d">34</text>
<text x="294.6" y="103" font-size="8.6" textLength="7.6" lengthAdjust="spacingAndGlyphs" class="d">33</text>
<text x="294.6" y="114.1" font-size="8.6" textLength="7.6" lengthAdjust="spacingAndGlyphs" class="d">32</text>
<text x="294.6" y="125.3" font-size="8.6" textLength="7.6" lengthAdjust="spacingAndGlyphs" class="d">31</text>
<text x="294.6" y="135.3" font-size="8.6" textLength="7.6" lengthAdjust="spacingAndGlyphs" class="d">30</text>
<text x="294.6" y="145.9" font-size="8.6" textLength="7.6" lengthAdjust="spacingAndGlyphs" class="d">29</text>
<text x="294.6" y="156.2" font-size="8.6" textLength="7.6" lengthAdjust="spacingAndGlyphs" class="d">28</text>
<text x="294.6" y="167" font-size="8.6" textLength="7.6" lengthAdjust="spacingAndGlyphs" class="d">27</text>
<text x="294.6" y="177.9" font-size="8.6" textLength="7.6" lengthAdjust="spacingAndGlyphs" class="d">26</text>
<text x="294.6" y="187.9" font-size="8.6" textLength="7.6" lengthAdjust="spacingAndGlyphs" class="d">25</text>
<text x="294.6" y="199.2" font-size="8.6" textLength="7.6" lengthAdjust="spacingAndGlyphs" class="d">24</text>
<text x="294.6" y="209.9" font-size="8.6" textLength="7.6" lengthAdjust="spacingAndGlyphs" class="d">23</text>
<text x="294.6" y="221.2" font-size="8.6" textLength="7.6" lengthAdjust="spacingAndGlyphs" class="d">22</text>
<text x="294.6" y="233.8" font-size="8.6" textLength="7.6" lengthAdjust="spacingAndGlyphs" class="d">21</text>
<text x="294.6" y="246" font-size="8.6" textLength="7.6" lengthAdjust="spacingAndGlyphs" class="d">20</text>
<text x="294.6" y="256" font-size="8.6" textLength="7.6" lengthAdjust="spacingAndGlyphs" class="d">19</text>
<text x="294.6" y="263.9" font-size="8.6" textLength="7.6" lengthAdjust="spacingAndGlyphs" class="d">18</text>
<text x="294.6" y="274.8" font-size="8.6" textLength="7.6" lengthAdjust="spacingAndGlyphs" class="d">17</text>
<text x="294.6" y="285.1" font-size="8.6" textLength="7.6" lengthAdjust="spacingAndGlyphs" class="d">16</text>
<text x="294.6" y="295.6" font-size="8.6" textLength="7.6" lengthAdjust="spacingAndGlyphs" class="d">15</text>
<text x="294.6" y="305.9" font-size="8.6" textLength="7.6" lengthAdjust="spacingAndGlyphs" class="d">14</text>
<text x="294.6" y="315.1" font-size="8.6" textLength="7.6" lengthAdjust="spacingAndGlyphs" class="d">13</text>
<text x="294.6" y="325.3" font-size="8.6" textLength="7.6" lengthAdjust="spacingAndGlyphs" class="d">12</text>
<text x="294.6" y="336" font-size="8.6" textLength="7.6" lengthAdjust="spacingAndGlyphs" class="d">11</text>
<text x="294.6" y="408.7" font-size="8.6" textLength="7.6" lengthAdjust="spacingAndGlyphs" class="d">10</text>
<text x="296.6" y="475.9" font-size="8.6" textLength="3.8" lengthAdjust="spacingAndGlyphs" class="d">9</text>
<text x="296.6" y="484.7" font-size="8.6" textLength="3.8" lengthAdjust="spacingAndGlyphs" class="d">8</text>
<text x="296.6" y="493.8" font-size="8.6" textLength="3.8" lengthAdjust="spacingAndGlyphs" class="d">7</text>
<text x="296.6" y="506.6" font-size="8.6" textLength="3.8" lengthAdjust="spacingAndGlyphs" class="d">6</text>
<text x="296.6" y="518.8" font-size="8.6" textLength="3.8" lengthAdjust="spacingAndGlyphs" class="d">5</text>
<text x="296.6" y="529.2" font-size="8.6" textLength="3.8" lengthAdjust="spacingAndGlyphs" class="d">4</text>
<text x="296.6" y="538.3" font-size="8.6" textLength="3.8" lengthAdjust="spacingAndGlyphs" class="d">3</text>
<text x="296.6" y="549.9" font-size="8.6" textLength="3.8" lengthAdjust="spacingAndGlyphs" class="d">2</text>
<text x="296.6" y="560" font-size="8.6" textLength="3.8" lengthAdjust="spacingAndGlyphs" class="d">1</text>
<text x="311.7" y="41.9" font-size="8.6" textLength="7.6" lengthAdjust="spacingAndGlyphs" class="d">40</text>
<text x="326" y="41.9" font-size="8.6" textLength="7.2" lengthAdjust="spacingAndGlyphs" class="d">41</text>
<text x="341" y="41.9" font-size="8.6" textLength="7.2" lengthAdjust="spacingAndGlyphs" class="d">42</text>
<text x="365.8" y="41.9" font-size="8.6" textLength="40" lengthAdjust="spacingAndGlyphs" class="d">434445464748</text>
<text x="413" y="41.9" font-size="8.6" textLength="33.8" lengthAdjust="spacingAndGlyphs" class="d">4950515253</text>
<text x="453.2" y="41.9" font-size="8.6" textLength="12.6" lengthAdjust="spacingAndGlyphs" class="d">5455</text>
<text x="476.2" y="41.9" font-size="8.6" textLength="7.2" lengthAdjust="spacingAndGlyphs" class="d">56</text>
<text x="461.4" y="156" font-size="8.6" textLength="7" lengthAdjust="spacingAndGlyphs" class="d">57</text>
<text x="461.4" y="163.5" font-size="8.6" textLength="7" lengthAdjust="spacingAndGlyphs" class="d">58</text>
<text x="461.4" y="174.4" font-size="8.6" textLength="7" lengthAdjust="spacingAndGlyphs" class="d">59</text>
<text x="461.4" y="184.4" font-size="8.6" textLength="7" lengthAdjust="spacingAndGlyphs" class="d">60</text>
<text x="461.4" y="193.8" font-size="8.6" textLength="7" lengthAdjust="spacingAndGlyphs" class="d">61</text>
<text x="461.4" y="204.8" font-size="8.6" textLength="7" lengthAdjust="spacingAndGlyphs" class="d">62</text>
<text x="464.4" y="407" font-size="8.6" textLength="7.4" lengthAdjust="spacingAndGlyphs" class="d">63</text>
<text x="358" y="53" font-size="4.8" textLength="11" lengthAdjust="spacingAndGlyphs" class="d">M5(M6)</text>
<text x="377" y="51" font-size="4.8" textLength="7" lengthAdjust="spacingAndGlyphs" class="d">M12</text>
<text x="423" y="50.5" font-size="4.8" textLength="8" lengthAdjust="spacingAndGlyphs" class="d">P(P')</text>
<text x="354.5" y="63" font-size="4.8" textLength="5" lengthAdjust="spacingAndGlyphs" class="d">T4</text>
<text x="366" y="74" font-size="4.8" textLength="4" lengthAdjust="spacingAndGlyphs" class="d">4°</text>
<text x="316" y="119" font-size="4.8" textLength="9" lengthAdjust="spacingAndGlyphs" class="d">M1-2</text>
<text x="310" y="131" font-size="4.8" textLength="13" lengthAdjust="spacingAndGlyphs" class="d">A1(A2)</text>
<text x="310" y="142" font-size="4.8" textLength="13" lengthAdjust="spacingAndGlyphs" class="d">A3(A4)</text>
<text x="348" y="118" font-size="4.8" textLength="6" lengthAdjust="spacingAndGlyphs" class="d">45°</text>
<text x="337" y="99" font-size="5.2" textLength="2.5" lengthAdjust="spacingAndGlyphs" class="d">h</text>
<text x="443" y="100" font-size="5.2" textLength="3" lengthAdjust="spacingAndGlyphs" class="d">V</text>
<text x="423" y="117" font-size="6.2" textLength="4" lengthAdjust="spacingAndGlyphs" class="d">W</text>
<text x="459" y="138" font-size="4.8" textLength="5" lengthAdjust="spacingAndGlyphs" class="d">K1</text>
<text x="445" y="212" font-size="4.8" textLength="4" lengthAdjust="spacingAndGlyphs" class="d">30</text>
<text x="440" y="249" font-size="5.2" textLength="3" lengthAdjust="spacingAndGlyphs" class="d">N</text>
<text x="457" y="270" font-size="4.8" textLength="6" lengthAdjust="spacingAndGlyphs" class="d">K2</text>
<text x="338" y="214" font-size="5.2" textLength="3" lengthAdjust="spacingAndGlyphs" class="d">A</text>
<text x="379" y="249" font-size="4.8" textLength="8" lengthAdjust="spacingAndGlyphs" class="d">4.5°</text>
<text x="318" y="309" font-size="4.8" textLength="5" lengthAdjust="spacingAndGlyphs" class="d">T3</text>
<text x="463" y="310" font-size="4.8" textLength="6" lengthAdjust="spacingAndGlyphs" class="d">T2</text>
<text x="336" y="412" font-size="4.8" textLength="6" lengthAdjust="spacingAndGlyphs" class="d">M7</text>
<text x="336" y="436" font-size="4.8" textLength="5" lengthAdjust="spacingAndGlyphs" class="d">C4</text>
<text x="330" y="460" font-size="4.8" textLength="13" lengthAdjust="spacingAndGlyphs" class="d">M4(C3)</text>
<text x="321" y="492" font-size="4.8" textLength="4" lengthAdjust="spacingAndGlyphs" class="d">T1</text>
<text x="344" y="540" font-size="4.8" textLength="9" lengthAdjust="spacingAndGlyphs" class="d">P3,P4</text>
<text x="362" y="550" font-size="5.2" textLength="3" lengthAdjust="spacingAndGlyphs" class="d">S</text>
<text x="459" y="489" font-size="4.8" textLength="6" lengthAdjust="spacingAndGlyphs" class="d">T5</text>
<text x="456" y="522" font-size="4.8" textLength="6" lengthAdjust="spacingAndGlyphs" class="d">PV</text>
<text x="427" y="525" font-size="4.8" textLength="6" lengthAdjust="spacingAndGlyphs" class="d">P2</text>
<text x="449" y="529" font-size="5.2" textLength="3" lengthAdjust="spacingAndGlyphs" class="d">L</text>
<text x="434" y="552" font-size="5.2" textLength="5" lengthAdjust="spacingAndGlyphs" class="d">D5</text>
<text x="403" y="568" font-size="5.2" textLength="3" lengthAdjust="spacingAndGlyphs" class="d">Q</text>
<text x="440" y="394" font-size="4.8" textLength="3" lengthAdjust="spacingAndGlyphs" class="d">h</text>
<text x="389" y="369" font-size="4.6" textLength="6" lengthAdjust="spacingAndGlyphs" class="d">R2</text>
<text x="389" y="381" font-size="4.6" textLength="6" lengthAdjust="spacingAndGlyphs" class="d">R2</text>
<text x="388" y="392" font-size="4.6" textLength="7" lengthAdjust="spacingAndGlyphs" class="d">400</text>
<text x="292" y="630.5" font-size="4.8" textLength="11" lengthAdjust="spacingAndGlyphs" class="d">M=600</text>
<text x="297" y="654" font-size="4.8" textLength="9" lengthAdjust="spacingAndGlyphs" class="d">L=50</text>
<text x="291" y="669" font-size="4.8" textLength="10" lengthAdjust="spacingAndGlyphs" class="d">(1-1)</text>
<text x="440" y="586" font-size="4.8" textLength="10" lengthAdjust="spacingAndGlyphs" class="d">(b-1)</text>
<text x="287" y="676" font-size="4.6" textLength="6" lengthAdjust="spacingAndGlyphs" class="d">180°</text>
<text x="488" y="676" font-size="4.6" textLength="4" lengthAdjust="spacingAndGlyphs" class="d">0°</text>
<text x="313" y="632" font-size="4.8" textLength="5" lengthAdjust="spacingAndGlyphs" class="d">M5</text>
<text x="336" y="633" font-size="4.8" textLength="11" lengthAdjust="spacingAndGlyphs" class="d">T1(S)</text>
<text x="345" y="727" font-size="4.8" textLength="11" lengthAdjust="spacingAndGlyphs" class="d">T1(S)</text>
<text x="371" y="726" font-size="4.8" textLength="14" lengthAdjust="spacingAndGlyphs" class="d">(B,4,2)</text>
<text x="430" y="616" font-size="4.8" textLength="5" lengthAdjust="spacingAndGlyphs" class="d">R4</text>
<text x="444" y="712" font-size="4.8" textLength="8" lengthAdjust="spacingAndGlyphs" class="d">C(4)</text>
<text x="401" y="637" font-size="4.8" textLength="6" lengthAdjust="spacingAndGlyphs" class="d">(C)</text>
<text x="411" y="646" font-size="4.8" textLength="3" lengthAdjust="spacingAndGlyphs" class="d">C</text>
<text x="358" y="654" font-size="4.8" textLength="3" lengthAdjust="spacingAndGlyphs" class="d">M</text>
<text x="431" y="682" font-size="4.8" textLength="8" lengthAdjust="spacingAndGlyphs" class="d">A(A)</text>
<text x="437" y="752" font-size="4.8" textLength="10" lengthAdjust="spacingAndGlyphs" class="d">(a-a)</text>
<text x="391" y="581" font-size="4.4" textLength="2" lengthAdjust="spacingAndGlyphs" class="d">0</text>
<text x="386" y="764" font-size="4.8" textLength="3" lengthAdjust="spacingAndGlyphs" class="d">B</text>
<text x="394" y="764" font-size="4.8" textLength="4" lengthAdjust="spacingAndGlyphs" class="d">M</text>
<text x="366" y="767" font-size="4.6" textLength="2" lengthAdjust="spacingAndGlyphs" class="d">4</text>
<text x="418" y="760" font-size="4.6" textLength="2" lengthAdjust="spacingAndGlyphs" class="d">3</text>
<text x="421" y="765" font-size="4.6" textLength="2" lengthAdjust="spacingAndGlyphs" class="d">5</text>
<text x="300" y="708" font-size="4.6" textLength="2" lengthAdjust="spacingAndGlyphs" class="d">4</text>
<text x="314" y="698" font-size="4.6" textLength="2" lengthAdjust="spacingAndGlyphs" class="d">4</text>
<text x="474" y="677" font-size="4.8" textLength="4" lengthAdjust="spacingAndGlyphs" class="d">H</text>
<text x="474" y="691" font-size="4.6" textLength="2" lengthAdjust="spacingAndGlyphs" class="d">4</text>
<text x="482" y="700" font-size="4.6" textLength="2" lengthAdjust="spacingAndGlyphs" class="d">5</text>
<text x="468" y="728" font-size="4.6" textLength="2" lengthAdjust="spacingAndGlyphs" class="d">4</text>
<text x="459" y="604" font-size="4.6" textLength="2" lengthAdjust="spacingAndGlyphs" class="d">2</text>
<text x="450" y="608" font-size="4.6" textLength="2" lengthAdjust="spacingAndGlyphs" class="d">4</text>
<text x="341" y="585" font-size="4.8" textLength="3" lengthAdjust="spacingAndGlyphs" class="d">M</text>
<text x="345" y="590" font-size="4.6" textLength="2" lengthAdjust="spacingAndGlyphs" class="d">4</text>
<text x="416" y="591" font-size="4.6" textLength="2" lengthAdjust="spacingAndGlyphs" class="d">4</text>
<text x="476.5" y="74" font-size="4.4" textLength="6.3" lengthAdjust="spacingAndGlyphs" transform="rotate(-90 476.5 74)" class="c">390</text>
<text x="492.8" y="80" font-size="4.4" textLength="6.3" lengthAdjust="spacingAndGlyphs" transform="rotate(-90 492.8 80)" class="c">510</text>
<text x="456" y="104" font-size="4.4" textLength="6.3" lengthAdjust="spacingAndGlyphs" transform="rotate(-90 456 104)" class="c">145</text>
<text x="464.5" y="116" font-size="4.4" textLength="6.3" lengthAdjust="spacingAndGlyphs" transform="rotate(-90 464.5 116)" class="c">250</text>
<text x="491.2" y="186" font-size="4.4" textLength="8.4" lengthAdjust="spacingAndGlyphs" transform="rotate(-90 491.2 186)" class="c">1545</text>
<text x="486.5" y="232" font-size="4.4" textLength="6.3" lengthAdjust="spacingAndGlyphs" transform="rotate(-90 486.5 232)" class="c">300</text>
<text x="486.5" y="268" font-size="4.4" textLength="6.3" lengthAdjust="spacingAndGlyphs" transform="rotate(-90 486.5 268)" class="c">510</text>
<text x="493" y="308" font-size="4.4" textLength="8.4" lengthAdjust="spacingAndGlyphs" transform="rotate(-90 493 308)" class="c">5900</text>
<text x="486.5" y="325" font-size="4.4" textLength="6.3" lengthAdjust="spacingAndGlyphs" transform="rotate(-90 486.5 325)" class="c">495</text>
<text x="474" y="490" font-size="4.4" textLength="6.3" lengthAdjust="spacingAndGlyphs" transform="rotate(-90 474 490)" class="c">385</text>
<text x="474" y="532" font-size="4.4" textLength="6.3" lengthAdjust="spacingAndGlyphs" transform="rotate(-90 474 532)" class="c">385</text>
<text x="492.5" y="560" font-size="4.4" textLength="6.3" lengthAdjust="spacingAndGlyphs" transform="rotate(-90 492.5 560)" class="c">610</text>
<text x="491" y="511" font-size="4.4" textLength="4.2" lengthAdjust="spacingAndGlyphs" transform="rotate(-90 491 511)" class="c">12</text>
<text x="491" y="521" font-size="4.4" textLength="4.2" lengthAdjust="spacingAndGlyphs" transform="rotate(-90 491 521)" class="c">47</text>
<text x="404.6" y="350" font-size="3.6" textLength="2" lengthAdjust="spacingAndGlyphs">5</text>
<text x="404.6" y="361" font-size="3.6" textLength="2" lengthAdjust="spacingAndGlyphs">5</text>
<text x="404.6" y="373" font-size="3.6" textLength="2" lengthAdjust="spacingAndGlyphs">L</text>
<text x="404.6" y="385" font-size="3.6" textLength="2" lengthAdjust="spacingAndGlyphs">V</text>
<text x="404.6" y="396" font-size="3.6" textLength="2" lengthAdjust="spacingAndGlyphs">T</text>
<text x="404.6" y="420" font-size="3.6" textLength="2" lengthAdjust="spacingAndGlyphs">4</text>
<text x="404.6" y="431" font-size="3.6" textLength="2" lengthAdjust="spacingAndGlyphs">5</text>
<text x="404.6" y="443" font-size="3.6" textLength="2" lengthAdjust="spacingAndGlyphs">4</text>
<text x="404.6" y="455" font-size="3.6" textLength="2" lengthAdjust="spacingAndGlyphs">3</text>
<text x="404.6" y="467" font-size="3.6" textLength="2" lengthAdjust="spacingAndGlyphs">3</text>
</g>
<g>
<text x="607" y="50" font-size="6.2" textLength="4.4" lengthAdjust="spacingAndGlyphs" class="c">技</text>
<text x="621.5" y="50" font-size="6.2" textLength="4.4" lengthAdjust="spacingAndGlyphs" class="c">术</text>
<text x="636" y="50" font-size="6.2" textLength="4.4" lengthAdjust="spacingAndGlyphs" class="c">要</text>
<text x="650.5" y="50" font-size="6.2" textLength="4.4" lengthAdjust="spacingAndGlyphs" class="c">求</text>
<text x="527.2" y="61.2" font-size="8.3" textLength="5.02" lengthAdjust="spacingAndGlyphs" class="l">1.</text>
<text x="532.72" y="61.2" font-size="6.4" textLength="12.58" lengthAdjust="spacingAndGlyphs" class="c">本设备按</text>
<text x="545.6" y="61.2" font-size="8.3" textLength="35.9" lengthAdjust="spacingAndGlyphs" class="l">GB150-1998</text>
<text x="582" y="61.2" font-size="6.4" textLength="28.92" lengthAdjust="spacingAndGlyphs" class="c">《钢制压力容器》和</text>
<text x="611.22" y="61.2" font-size="8.3" textLength="36.25" lengthAdjust="spacingAndGlyphs" class="l">HG20584-98</text>
<text x="647.97" y="61.2" font-size="6.4" textLength="133.53" lengthAdjust="spacingAndGlyphs" class="c">《钢制化工容器制造技术要求》进行制造、试验和验收，并接受劳动部颁发《压力容器安全技</text>
<text x="527.4" y="70.4" font-size="6.4" textLength="22.38" lengthAdjust="spacingAndGlyphs" class="c">术监察规程》</text>
<text x="550.08" y="70.4" font-size="8.3" textLength="10.46" lengthAdjust="spacingAndGlyphs" class="l">(99</text>
<text x="561.05" y="70.4" font-size="6.4" textLength="3.31" lengthAdjust="spacingAndGlyphs" class="c">版</text>
<text x="564.66" y="70.4" font-size="8.3" textLength="2.18" lengthAdjust="spacingAndGlyphs" class="l">)</text>
<text x="567.34" y="70.4" font-size="6.4" textLength="14.76" lengthAdjust="spacingAndGlyphs" class="c">的监督。</text>
<text x="527.2" y="80.1" font-size="8.3" textLength="5.25" lengthAdjust="spacingAndGlyphs" class="l">2.</text>
<text x="532.95" y="80.1" font-size="6.4" textLength="43.8" lengthAdjust="spacingAndGlyphs" class="c">焊接采用电弧焊，焊条型号按</text>
<text x="577.05" y="80.1" font-size="8.3" textLength="45.21" lengthAdjust="spacingAndGlyphs" class="l">JB/T4709-2000</text>
<text x="622.76" y="80.1" font-size="6.4" textLength="26.76" lengthAdjust="spacingAndGlyphs" class="c">的规定，焊条牌号</text>
<text x="649.83" y="80.1" font-size="8.3" textLength="21.15" lengthAdjust="spacingAndGlyphs" class="l">16MnR</text>
<text x="671.48" y="80.1" font-size="6.4" textLength="6.32" lengthAdjust="spacingAndGlyphs" class="c">间为</text>
<text x="678.1" y="80.1" font-size="8.3" textLength="14.13" lengthAdjust="spacingAndGlyphs" class="l">J507</text>
<text x="692.73" y="80.1" font-size="6.4" textLength="13.13" lengthAdjust="spacingAndGlyphs" class="c">，其余为</text>
<text x="706.16" y="80.1" font-size="8.3" textLength="14.13" lengthAdjust="spacingAndGlyphs" class="l">J427</text>
<text x="720.79" y="80.1" font-size="6.4" textLength="2.91" lengthAdjust="spacingAndGlyphs" class="c">。</text>
<text x="527.2" y="89.3" font-size="8.3" textLength="5.37" lengthAdjust="spacingAndGlyphs" class="l">3.</text>
<text x="533.07" y="89.3" font-size="6.4" textLength="58.7" lengthAdjust="spacingAndGlyphs" class="c">焊接接头型式及尺寸除图中注明外，按</text>
<text x="592.07" y="89.3" font-size="8.3" textLength="38.64" lengthAdjust="spacingAndGlyphs" class="l">HG20583-99</text>
<text x="631.21" y="89.3" font-size="6.4" textLength="30.84" lengthAdjust="spacingAndGlyphs" class="c">中规定；对接焊缝为</text>
<text x="662.35" y="89.3" font-size="8.3" textLength="16.58" lengthAdjust="spacingAndGlyphs" class="l">DU11</text>
<text x="679.43" y="89.3" font-size="6.4" textLength="30.84" lengthAdjust="spacingAndGlyphs" class="c">，接管与筒体焊缝为</text>
<text x="710.57" y="89.3" font-size="8.3" textLength="8.77" lengthAdjust="spacingAndGlyphs" class="l">G4</text>
<text x="719.84" y="89.3" font-size="6.4" textLength="65.66" lengthAdjust="spacingAndGlyphs" class="c">，角焊缝的焊角尺寸按较薄板的厚度；法兰</text>
<text x="527.4" y="98.8" font-size="6.4" textLength="63.9" lengthAdjust="spacingAndGlyphs" class="c">的焊接按相应法兰标准中的规定。</text>
<text x="527.2" y="108.5" font-size="8.3" textLength="5.45" lengthAdjust="spacingAndGlyphs" class="l">4.</text>
<text x="533.15" y="108.5" font-size="6.4" textLength="13.63" lengthAdjust="spacingAndGlyphs" class="c">容器上的</text>
<text x="547.08" y="108.5" font-size="8.3" textLength="4.3" lengthAdjust="spacingAndGlyphs" class="l">A</text>
<text x="551.88" y="108.5" font-size="6.4" textLength="6.56" lengthAdjust="spacingAndGlyphs" class="c">类和</text>
<text x="558.75" y="108.5" font-size="8.3" textLength="4.3" lengthAdjust="spacingAndGlyphs" class="l">B</text>
<text x="563.55" y="108.5" font-size="6.4" textLength="80.74" lengthAdjust="spacingAndGlyphs" class="c">类焊接接头应进行无损检测，检测长度为焊缝长度的</text>
<text x="644.59" y="108.5" font-size="8.3" textLength="17.34" lengthAdjust="spacingAndGlyphs" class="l">100%</text>
<text x="662.43" y="108.5" font-size="6.4" textLength="10.1" lengthAdjust="spacingAndGlyphs" class="c">，并按</text>
<text x="672.83" y="108.5" font-size="8.3" textLength="52.62" lengthAdjust="spacingAndGlyphs" class="l">JB/T4730.2-2005</text>
<text x="725.95" y="108.5" font-size="6.4" textLength="59.55" lengthAdjust="spacingAndGlyphs" class="c">规定进行射线检测，Ⅱ级合格；裙座与</text>
<text x="527.4" y="118.3" font-size="6.4" textLength="57.21" lengthAdjust="spacingAndGlyphs" class="c">封头的焊接接头应进行磁粉检测，按</text>
<text x="584.91" y="118.3" font-size="8.3" textLength="53.74" lengthAdjust="spacingAndGlyphs" class="l">JB/T4730.4-2005</text>
<text x="639.15" y="118.3" font-size="6.4" textLength="24.75" lengthAdjust="spacingAndGlyphs" class="c">规定Ⅰ级合格。</text>
<text x="527.2" y="128.3" font-size="8.3" textLength="5.63" lengthAdjust="spacingAndGlyphs" class="l">5.</text>
<text x="533.33" y="128.3" font-size="6.4" textLength="50.45" lengthAdjust="spacingAndGlyphs" class="c">设备制造完毕后，对换热管进行</text>
<text x="584.08" y="128.3" font-size="8.3" textLength="13.92" lengthAdjust="spacingAndGlyphs" class="l">25%</text>
<text x="598.5" y="128.3" font-size="6.4" textLength="61.37" lengthAdjust="spacingAndGlyphs" class="c">的涡流检测，检测长度距管端不得小于</text>
<text x="660.17" y="128.3" font-size="8.3" textLength="32.48" lengthAdjust="spacingAndGlyphs" class="l">H1500mm</text>
<text x="693.15" y="128.3" font-size="6.4" textLength="10.42" lengthAdjust="spacingAndGlyphs" class="c">，其余</text>
<text x="703.87" y="128.3" font-size="8.3" textLength="4.44" lengthAdjust="spacingAndGlyphs" class="l">A</text>
<text x="708.81" y="128.3" font-size="6.4" textLength="6.78" lengthAdjust="spacingAndGlyphs" class="c">类和</text>
<text x="715.89" y="128.3" font-size="8.3" textLength="4.44" lengthAdjust="spacingAndGlyphs" class="l">B</text>
<text x="720.83" y="128.3" font-size="6.4" textLength="24.97" lengthAdjust="spacingAndGlyphs" class="c">类焊接接头进行</text>
<text x="746.1" y="128.3" font-size="8.3" textLength="13.92" lengthAdjust="spacingAndGlyphs" class="l">20%</text>
<text x="760.53" y="128.3" font-size="6.4" textLength="24.97" lengthAdjust="spacingAndGlyphs" class="c">超声检测，符合</text>
<text x="527.4" y="138" font-size="6.4" textLength="76.11" lengthAdjust="spacingAndGlyphs" class="c">Ⅱ级合格要求，检测结果应符合标准的规定</text>
<text x="603.81" y="138" font-size="8.3" textLength="60.1" lengthAdjust="spacingAndGlyphs" class="l">JB/T4730.3-2005</text>
<text x="664.41" y="138" font-size="6.4" textLength="23.69" lengthAdjust="spacingAndGlyphs" class="c">规定的要求。</text>
<text x="527.2" y="148" font-size="8.3" textLength="6.16" lengthAdjust="spacingAndGlyphs" class="l">6.</text>
<text x="533.86" y="148" font-size="6.4" textLength="35.18" lengthAdjust="spacingAndGlyphs" class="c">设备制造完毕后，以</text>
<text x="569.33" y="148" font-size="8.3" textLength="13.04" lengthAdjust="spacingAndGlyphs" class="l">1.0(</text>
<text x="582.87" y="148" font-size="6.4" textLength="7.43" lengthAdjust="spacingAndGlyphs" class="c">壳程</text>
<text x="590.6" y="148" font-size="8.3" textLength="22.07" lengthAdjust="spacingAndGlyphs" class="l">)/1.23(</text>
<text x="613.17" y="148" font-size="6.4" textLength="7.43" lengthAdjust="spacingAndGlyphs" class="c">管程</text>
<text x="620.9" y="148" font-size="8.3" textLength="18.2" lengthAdjust="spacingAndGlyphs" class="l">)MPa</text>
<text x="639.6" y="148" font-size="6.4" textLength="55" lengthAdjust="spacingAndGlyphs" class="c">进行水压试验，试验合格后再以</text>
<text x="694.89" y="148" font-size="8.3" textLength="26.38" lengthAdjust="spacingAndGlyphs" class="l">0.5MPa</text>
<text x="721.77" y="148" font-size="6.4" textLength="62.93" lengthAdjust="spacingAndGlyphs" class="c">的压缩空气进行气密性试验，试验时</text>
<text x="527.4" y="157.2" font-size="6.4" textLength="76.5" lengthAdjust="spacingAndGlyphs" class="c">应按有关规程进行并注意安全，不得有渗漏现象。</text>
<text x="527.2" y="166.4" font-size="8.3" textLength="4.51" lengthAdjust="spacingAndGlyphs" class="l">7.</text>
<text x="532.21" y="166.4" font-size="6.4" textLength="46.78" lengthAdjust="spacingAndGlyphs" class="c">管板密封面与壳体轴线垂直度公差为</text>
<text x="579.29" y="166.4" font-size="8.3" textLength="12.52" lengthAdjust="spacingAndGlyphs" class="l">2mm</text>
<text x="592.31" y="166.4" font-size="6.4" textLength="37.91" lengthAdjust="spacingAndGlyphs" class="c">，设备的直线度允差不得大于</text>
<text x="630.52" y="166.4" font-size="8.3" textLength="12.52" lengthAdjust="spacingAndGlyphs" class="l">5mm</text>
<text x="643.55" y="166.4" font-size="6.4" textLength="2.45" lengthAdjust="spacingAndGlyphs" class="c">。</text>
<text x="527.2" y="175.9" font-size="8.3" textLength="4.92" lengthAdjust="spacingAndGlyphs" class="l">8.</text>
<text x="532.62" y="175.9" font-size="6.4" textLength="47.57" lengthAdjust="spacingAndGlyphs" class="c">塔体安装垂直度允差及其它要求按</text>
<text x="580.49" y="175.9" font-size="8.3" textLength="42.5" lengthAdjust="spacingAndGlyphs" class="l">JB/T4710-2005</text>
<text x="623.49" y="175.9" font-size="6.4" textLength="28.34" lengthAdjust="spacingAndGlyphs" class="c">《钢制塔式容器》第</text>
<text x="652.13" y="175.9" font-size="8.3" textLength="8.75" lengthAdjust="spacingAndGlyphs" class="l">9-1</text>
<text x="661.38" y="175.9" font-size="6.4" textLength="12.32" lengthAdjust="spacingAndGlyphs" class="c">条规定。</text>
<text x="527.2" y="185.4" font-size="8.3" textLength="5.78" lengthAdjust="spacingAndGlyphs" class="l">9.</text>
<text x="533.48" y="185.4" font-size="6.4" textLength="92.82" lengthAdjust="spacingAndGlyphs" class="c">旋风分离器的制造、安装及验收按专用技术条件的规定。</text>
<text x="527.2" y="194.8" font-size="8.3" textLength="10.24" lengthAdjust="spacingAndGlyphs" class="l">10.</text>
<text x="537.94" y="194.8" font-size="6.4" textLength="201.31" lengthAdjust="spacingAndGlyphs" class="c">设备的保温支持圈，由制造厂按保温要求，现场安装确定位置，在不影响管口位置的情况下相邻两支持圈间距不得大于</text>
<text x="739.55" y="194.8" font-size="8.3" textLength="24.97" lengthAdjust="spacingAndGlyphs" class="l">200mm</text>
<text x="765.02" y="194.8" font-size="6.4" textLength="3.38" lengthAdjust="spacingAndGlyphs" class="c">。</text>
<text x="527.2" y="204.6" font-size="8.3" textLength="8.19" lengthAdjust="spacingAndGlyphs" class="l">11.</text>
<text x="535.89" y="204.6" font-size="6.4" textLength="39.13" lengthAdjust="spacingAndGlyphs" class="c">设备的油漆、包装、运输按</text>
<text x="575.31" y="204.6" font-size="8.3" textLength="43.31" lengthAdjust="spacingAndGlyphs" class="l">JB/T4711-2003</text>
<text x="619.13" y="204.6" font-size="6.4" textLength="115.07" lengthAdjust="spacingAndGlyphs" class="c">《压力容器涂敷与运输包装》的规定，设备内外表面应清理干净，管口应封闭。</text>
<text x="527.2" y="213.5" font-size="8.3" textLength="27.63" lengthAdjust="spacingAndGlyphs" class="l">12.P3,P4</text>
<text x="555.33" y="213.5" font-size="6.4" textLength="93.37" lengthAdjust="spacingAndGlyphs" class="c">管口的安装方位由现场配管确定，制造时应预留足够的余量。</text>
<text x="527.2" y="223" font-size="8.3" textLength="8.77" lengthAdjust="spacingAndGlyphs" class="l">13.</text>
<text x="536.47" y="223" font-size="6.4" textLength="163.23" lengthAdjust="spacingAndGlyphs" class="c">设备的裙座螺栓孔应跨中均布，地脚螺栓的位置及尺寸见基础条件图，并应与土建基础图核对无误后方可施工。</text>
<text x="527.2" y="233" font-size="8.3" textLength="9.24" lengthAdjust="spacingAndGlyphs" class="l">14.</text>
<text x="536.94" y="233" font-size="6.4" textLength="24.09" lengthAdjust="spacingAndGlyphs" class="c">换热管采用符合</text>
<text x="561.33" y="233" font-size="8.3" textLength="42.43" lengthAdjust="spacingAndGlyphs" class="l">GB3087-1999</text>
<text x="604.26" y="233" font-size="6.4" textLength="66.26" lengthAdjust="spacingAndGlyphs" class="c">《低中压锅炉用无缝钢管》的钢管，材质为</text>
<text x="670.82" y="233" font-size="8.3" textLength="7.33" lengthAdjust="spacingAndGlyphs" class="l">20</text>
<text x="678.65" y="233" font-size="6.4" textLength="27.61" lengthAdjust="spacingAndGlyphs" class="c">钢；接管采用符合</text>
<text x="706.56" y="233" font-size="8.3" textLength="48.52" lengthAdjust="spacingAndGlyphs" class="l">GB/T8163-1999</text>
<text x="755.58" y="233" font-size="6.4" textLength="31.12" lengthAdjust="spacingAndGlyphs" class="c">《输送流体用无缝钢</text>
<text x="527.4" y="242" font-size="6.4" textLength="10.7" lengthAdjust="spacingAndGlyphs" class="c">管》。</text>
</g>
<g class="g">
<line x1="511.8" y1="257.5" x2="621.4" y2="257.5"/>
<line x1="511.8" y1="265.5" x2="621.4" y2="265.5"/>
<line x1="511.8" y1="276.5" x2="621.4" y2="276.5"/>
<line x1="511.8" y1="283.5" x2="621.4" y2="283.5"/>
<line x1="511.8" y1="290.5" x2="621.4" y2="290.5"/>
<line x1="511.8" y1="298.5" x2="621.4" y2="298.5"/>
<line x1="511.8" y1="305.5" x2="621.4" y2="305.5"/>
<line x1="511.8" y1="312.5" x2="621.4" y2="312.5"/>
<line x1="511.8" y1="320.5" x2="621.4" y2="320.5"/>
<line x1="511.8" y1="327.5" x2="621.4" y2="327.5"/>
<line x1="511.8" y1="334.5" x2="621.4" y2="334.5"/>
<line x1="511.8" y1="342.5" x2="621.4" y2="342.5"/>
<line x1="511.8" y1="349.5" x2="621.4" y2="349.5"/>
<line x1="511.8" y1="356.5" x2="621.4" y2="356.5"/>
<line x1="511.8" y1="363.5" x2="621.4" y2="363.5"/>
<line x1="511.8" y1="371.5" x2="621.4" y2="371.5"/>
<line x1="511.8" y1="378.5" x2="621.4" y2="378.5"/>
<line x1="511.5" y1="257.9" x2="511.5" y2="378.5"/>
<line x1="620.5" y1="257.9" x2="620.5" y2="378.5"/>
<line x1="521.5" y1="265.8" x2="521.5" y2="378.5"/>
<line x1="539.5" y1="265.8" x2="539.5" y2="378.5"/>
<line x1="584.5" y1="265.8" x2="584.5" y2="378.5"/>
<line x1="598.5" y1="265.8" x2="598.5" y2="378.5"/>
<line x1="541" y1="369.5" x2="583" y2="364.5"/>
<line x1="586.5" y1="369" x2="597.5" y2="364.5"/>
<line x1="512.5" y1="384.5" x2="621.4" y2="384.5"/>
<line x1="512.5" y1="395.5" x2="621.4" y2="395.5"/>
<line x1="512.5" y1="403.5" x2="621.4" y2="403.5"/>
<line x1="512.5" y1="410.5" x2="621.4" y2="410.5"/>
<line x1="512.5" y1="417.5" x2="621.4" y2="417.5"/>
<line x1="512.5" y1="425.5" x2="621.4" y2="425.5"/>
<line x1="512.5" y1="432.5" x2="621.4" y2="432.5"/>
<line x1="512.5" y1="439.5" x2="621.4" y2="439.5"/>
<line x1="512.5" y1="447.5" x2="621.4" y2="447.5"/>
<line x1="512.5" y1="454.5" x2="621.4" y2="454.5"/>
<line x1="512.5" y1="461.5" x2="621.4" y2="461.5"/>
<line x1="512.5" y1="468.5" x2="621.4" y2="468.5"/>
<line x1="512.5" y1="476.5" x2="621.4" y2="476.5"/>
<line x1="512.5" y1="483.5" x2="621.4" y2="483.5"/>
<line x1="512.5" y1="490.5" x2="621.4" y2="490.5"/>
<line x1="512.5" y1="498.5" x2="621.4" y2="498.5"/>
<line x1="512.5" y1="505.5" x2="621.4" y2="505.5"/>
<line x1="512.5" y1="512.5" x2="621.4" y2="512.5"/>
<line x1="512.5" y1="520.5" x2="621.4" y2="520.5"/>
<line x1="512.5" y1="384.7" x2="512.5" y2="520"/>
<line x1="620.5" y1="384.7" x2="620.5" y2="520"/>
<line x1="548.5" y1="395.9" x2="548.5" y2="520"/>
<line x1="582.5" y1="395.9" x2="582.5" y2="447"/>
<line x1="629.8" y1="256.5" x2="793.4" y2="256.5"/>
<line x1="629.8" y1="264.5" x2="793.4" y2="264.5"/>
<line x1="629.8" y1="271.5" x2="793.4" y2="271.5"/>
<line x1="629.8" y1="278.5" x2="793.4" y2="278.5"/>
<line x1="629.8" y1="285.5" x2="793.4" y2="285.5"/>
<line x1="629.8" y1="293.5" x2="793.4" y2="293.5"/>
<line x1="629.8" y1="300.5" x2="793.4" y2="300.5"/>
<line x1="629.8" y1="307.5" x2="793.4" y2="307.5"/>
<line x1="629.8" y1="315.5" x2="793.4" y2="315.5"/>
<line x1="629.8" y1="322.5" x2="793.4" y2="322.5"/>
<line x1="629.8" y1="329.5" x2="793.4" y2="329.5"/>
<line x1="629.8" y1="336.5" x2="793.4" y2="336.5"/>
<line x1="629.8" y1="344.5" x2="793.4" y2="344.5"/>
<line x1="629.8" y1="351.5" x2="793.4" y2="351.5"/>
<line x1="629.8" y1="358.5" x2="793.4" y2="358.5"/>
<line x1="629.8" y1="366.5" x2="793.4" y2="366.5"/>
<line x1="629.8" y1="373.5" x2="793.4" y2="373.5"/>
<line x1="629.8" y1="380.5" x2="793.4" y2="380.5"/>
<line x1="629.8" y1="387.5" x2="793.4" y2="387.5"/>
<line x1="629.8" y1="395.5" x2="793.4" y2="395.5"/>
<line x1="629.8" y1="402.5" x2="793.4" y2="402.5"/>
<line x1="629.8" y1="409.5" x2="793.4" y2="409.5"/>
<line x1="629.8" y1="417.5" x2="793.4" y2="417.5"/>
<line x1="629.8" y1="424.5" x2="793.4" y2="424.5"/>
<line x1="629.8" y1="431.5" x2="793.4" y2="431.5"/>
<line x1="629.8" y1="438.5" x2="793.4" y2="438.5"/>
<line x1="629.8" y1="446.5" x2="793.4" y2="446.5"/>
<line x1="629.8" y1="453.5" x2="793.4" y2="453.5"/>
<line x1="629.8" y1="460.5" x2="793.4" y2="460.5"/>
<line x1="629.8" y1="467.5" x2="793.4" y2="467.5"/>
<line x1="629.8" y1="475.5" x2="793.4" y2="475.5"/>
<line x1="629.8" y1="482.5" x2="793.4" y2="482.5"/>
<line x1="629.8" y1="489.5" x2="793.4" y2="489.5"/>
<line x1="629.8" y1="497.5" x2="793.4" y2="497.5"/>
<line x1="629.8" y1="504.5" x2="793.4" y2="504.5"/>
<line x1="629.8" y1="511.5" x2="793.4" y2="511.5"/>
<line x1="629.8" y1="518.5" x2="793.4" y2="518.5"/>
<line x1="629.8" y1="526.5" x2="793.4" y2="526.5"/>
<line x1="629.8" y1="533.5" x2="793.4" y2="533.5"/>
<line x1="629.8" y1="540.5" x2="793.4" y2="540.5"/>
<line x1="629.8" y1="548.5" x2="793.4" y2="548.5"/>
<line x1="629.8" y1="555.5" x2="793.4" y2="555.5"/>
<line x1="629.8" y1="562.5" x2="793.4" y2="562.5"/>
<line x1="629.8" y1="569.5" x2="793.4" y2="569.5"/>
<line x1="629.8" y1="577.5" x2="793.4" y2="577.5"/>
<line x1="629.8" y1="584.5" x2="793.4" y2="584.5"/>
<line x1="629.8" y1="591.5" x2="793.4" y2="591.5"/>
<line x1="629.8" y1="599.5" x2="793.4" y2="599.5"/>
<line x1="629.8" y1="606.5" x2="793.4" y2="606.5"/>
<line x1="629.8" y1="613.5" x2="793.4" y2="613.5"/>
<line x1="629.8" y1="620.5" x2="793.4" y2="620.5"/>
<line x1="629.8" y1="628.5" x2="793.4" y2="628.5"/>
<line x1="629.8" y1="635.5" x2="793.4" y2="635.5"/>
<line x1="629.8" y1="642.5" x2="793.4" y2="642.5"/>
<line x1="629.8" y1="650.5" x2="793.4" y2="650.5"/>
<line x1="629.8" y1="657.5" x2="793.4" y2="657.5"/>
<line x1="629.8" y1="664.5" x2="793.4" y2="664.5"/>
<line x1="629.8" y1="671.5" x2="793.4" y2="671.5"/>
<line x1="629.8" y1="679.5" x2="793.4" y2="679.5"/>
<line x1="629.8" y1="686.5" x2="793.4" y2="686.5"/>
<line x1="629.8" y1="693.5" x2="793.4" y2="693.5"/>
<line x1="629.8" y1="701.5" x2="793.4" y2="701.5"/>
<line x1="629.8" y1="708.5" x2="793.4" y2="708.5"/>
<line x1="629.8" y1="715.5" x2="793.4" y2="715.5"/>
<line x1="629.8" y1="726.5" x2="793.4" y2="726.5"/>
<line x1="752.8" y1="719.5" x2="770.6" y2="719.5"/>
<line x1="629.5" y1="256.8" x2="629.5" y2="771"/>
<line x1="647.5" y1="256.8" x2="647.5" y2="726.8"/>
<line x1="675.5" y1="256.8" x2="675.5" y2="726.8"/>
<line x1="716.5" y1="256.8" x2="716.5" y2="726.8"/>
<line x1="724.5" y1="256.8" x2="724.5" y2="726.8"/>
<line x1="752.5" y1="256.8" x2="752.5" y2="726.8"/>
<line x1="761.5" y1="256.8" x2="761.5" y2="726.8"/>
<line x1="770.5" y1="256.8" x2="770.5" y2="726.8"/>
<line x1="629.8" y1="737.5" x2="793" y2="737.5"/>
<line x1="729.1" y1="732.5" x2="793" y2="732.5"/>
<line x1="729.1" y1="743.5" x2="793" y2="743.5"/>
<line x1="729.1" y1="748.5" x2="793" y2="748.5"/>
<line x1="675.8" y1="759.5" x2="793" y2="759.5"/>
<line x1="729.1" y1="764.5" x2="793" y2="764.5"/>
<line x1="629.8" y1="742.5" x2="675.8" y2="742.5"/>
<line x1="629.8" y1="748.5" x2="675.8" y2="748.5"/>
<line x1="629.8" y1="753.5" x2="675.8" y2="753.5"/>
<line x1="629.8" y1="759.5" x2="675.8" y2="759.5"/>
<line x1="629.8" y1="764.5" x2="675.8" y2="764.5"/>
<line x1="642.5" y1="737.8" x2="642.5" y2="771"/>
<line x1="661.5" y1="737.8" x2="661.5" y2="771"/>
<line x1="675.5" y1="737.8" x2="675.5" y2="771"/>
<line x1="729.5" y1="726.8" x2="729.5" y2="771"/>
<line x1="760.5" y1="732.7" x2="760.5" y2="748.3"/>
<line x1="745.5" y1="759.3" x2="745.5" y2="771"/>
<line x1="760.5" y1="759.3" x2="760.5" y2="771"/>
<line x1="776.5" y1="759.3" x2="776.5" y2="771"/>
</g>
<g class="tb">
<text x="548" y="264" font-size="5.6" textLength="3.6" lengthAdjust="spacingAndGlyphs">管</text>
<text x="559" y="264" font-size="5.6" textLength="3.6" lengthAdjust="spacingAndGlyphs">口</text>
<text x="570" y="264" font-size="5.6" textLength="3.6" lengthAdjust="spacingAndGlyphs">表</text>
<text x="513.64" y="274" font-size="5" textLength="5.52" lengthAdjust="spacingAndGlyphs">符号</text>
<text x="525.16" y="274" font-size="5" textLength="10.18" lengthAdjust="spacingAndGlyphs">公称尺寸</text>
<text x="555.39" y="274" font-size="5" textLength="13.62" lengthAdjust="spacingAndGlyphs">连接尺寸标准</text>
<text x="588.61" y="270.5" font-size="4.4" textLength="6.08" lengthAdjust="spacingAndGlyphs">连接面</text>
<text x="587.26" y="275.3" font-size="4.4" textLength="8.78" lengthAdjust="spacingAndGlyphs">形  式</text>
<text x="604.78" y="274" font-size="5" textLength="9.24" lengthAdjust="spacingAndGlyphs">用途或名称</text>
<text x="515.02" y="282.3" font-size="5.2" textLength="2.76" lengthAdjust="spacingAndGlyphs">A</text>
<text x="522.5" y="282.3" font-size="5.2" textLength="7.8" lengthAdjust="spacingAndGlyphs">500</text>
<text x="541" y="282.3" font-size="5.2" textLength="38" lengthAdjust="spacingAndGlyphs">HG20592-97 PL500-0.6 RF</text>
<text x="589.62" y="282.3" font-size="5.2" textLength="4.05" lengthAdjust="spacingAndGlyphs">M</text>
<text x="605.88" y="282.3" font-size="5.2" textLength="7.04" lengthAdjust="spacingAndGlyphs">人孔</text>
<text x="512.49" y="289.6" font-size="5.2" textLength="7.82" lengthAdjust="spacingAndGlyphs">B1-4</text>
<text x="522.5" y="289.6" font-size="5.2" textLength="5.2" lengthAdjust="spacingAndGlyphs">25</text>
<text x="541" y="289.6" font-size="5.2" textLength="38" lengthAdjust="spacingAndGlyphs">HG20592-97 SO25-1.6 RF</text>
<text x="587.94" y="289.6" font-size="5.2" textLength="7.43" lengthAdjust="spacingAndGlyphs">FM</text>
<text x="602.8" y="289.6" font-size="5.2" textLength="13.2" lengthAdjust="spacingAndGlyphs">压力计口</text>
<text x="512.49" y="296.9" font-size="5.2" textLength="7.82" lengthAdjust="spacingAndGlyphs">C1-4</text>
<text x="522.5" y="296.9" font-size="5.2" textLength="5.2" lengthAdjust="spacingAndGlyphs">25</text>
<text x="541" y="296.9" font-size="5.2" textLength="38" lengthAdjust="spacingAndGlyphs">HG20592-97 SO25-1.6 RF</text>
<text x="587.94" y="296.9" font-size="5.2" textLength="7.43" lengthAdjust="spacingAndGlyphs">FM</text>
<text x="602.8" y="296.9" font-size="5.2" textLength="13.2" lengthAdjust="spacingAndGlyphs">温度计口</text>
<text x="515.02" y="304.2" font-size="5.2" textLength="2.76" lengthAdjust="spacingAndGlyphs">D</text>
<text x="522.5" y="304.2" font-size="5.2" textLength="14" lengthAdjust="spacingAndGlyphs">100/150</text>
<text x="541" y="304.2" font-size="5.2" textLength="38" lengthAdjust="spacingAndGlyphs">HG20592-97 WN100-1.6 RF</text>
<text x="587.94" y="304.2" font-size="5.2" textLength="7.43" lengthAdjust="spacingAndGlyphs">FM</text>
<text x="604.12" y="304.2" font-size="5.2" textLength="10.56" lengthAdjust="spacingAndGlyphs">进料口</text>
<text x="515.02" y="311.5" font-size="5.2" textLength="2.76" lengthAdjust="spacingAndGlyphs">E</text>
<text x="522.5" y="311.5" font-size="5.2" textLength="5.2" lengthAdjust="spacingAndGlyphs">20</text>
<text x="541" y="311.5" font-size="5.2" textLength="38" lengthAdjust="spacingAndGlyphs">HG20592-97 SO20-1.6 RF</text>
<text x="589.62" y="311.5" font-size="5.2" textLength="4.05" lengthAdjust="spacingAndGlyphs">M</text>
<text x="604.12" y="311.5" font-size="5.2" textLength="10.56" lengthAdjust="spacingAndGlyphs">排气口</text>
<text x="512.49" y="318.8" font-size="5.2" textLength="7.82" lengthAdjust="spacingAndGlyphs">F1-4</text>
<text x="522.5" y="318.8" font-size="5.2" textLength="7.8" lengthAdjust="spacingAndGlyphs">100</text>
<text x="541" y="318.8" font-size="5.2" textLength="38" lengthAdjust="spacingAndGlyphs">HG20592-97 PL100-0.6 RF</text>
<text x="587.94" y="318.8" font-size="5.2" textLength="7.43" lengthAdjust="spacingAndGlyphs">FM</text>
<text x="604.12" y="318.8" font-size="5.2" textLength="10.56" lengthAdjust="spacingAndGlyphs">进水口</text>
<text x="512.49" y="326.1" font-size="5.2" textLength="7.82" lengthAdjust="spacingAndGlyphs">G1-2</text>
<text x="522.5" y="326.1" font-size="5.2" textLength="7.8" lengthAdjust="spacingAndGlyphs">100</text>
<text x="541" y="326.1" font-size="5.2" textLength="38" lengthAdjust="spacingAndGlyphs">HG20592-97 PL100-0.6 RF</text>
<text x="587.94" y="326.1" font-size="5.2" textLength="7.43" lengthAdjust="spacingAndGlyphs">FM</text>
<text x="604.12" y="326.1" font-size="5.2" textLength="10.56" lengthAdjust="spacingAndGlyphs">出水口</text>
<text x="515.02" y="333.4" font-size="5.2" textLength="2.76" lengthAdjust="spacingAndGlyphs">H</text>
<text x="522.5" y="333.4" font-size="5.2" textLength="5.2" lengthAdjust="spacingAndGlyphs">80</text>
<text x="541" y="333.4" font-size="5.2" textLength="38" lengthAdjust="spacingAndGlyphs">HG20592-97 SO80-1.6 RF</text>
<text x="587.94" y="333.4" font-size="5.2" textLength="7.43" lengthAdjust="spacingAndGlyphs">FM</text>
<text x="602.8" y="333.4" font-size="5.2" textLength="13.2" lengthAdjust="spacingAndGlyphs">蒸汽出口</text>
<text x="512.49" y="340.7" font-size="5.2" textLength="7.82" lengthAdjust="spacingAndGlyphs">K1-2</text>
<text x="522.5" y="340.7" font-size="5.2" textLength="13" lengthAdjust="spacingAndGlyphs">20/25</text>
<text x="541" y="340.7" font-size="5.2" textLength="38" lengthAdjust="spacingAndGlyphs">HG20592-97 SO25-1.6 RF</text>
<text x="587.94" y="340.7" font-size="5.2" textLength="7.43" lengthAdjust="spacingAndGlyphs">FM</text>
<text x="604.12" y="340.7" font-size="5.2" textLength="10.56" lengthAdjust="spacingAndGlyphs">排污口</text>
<text x="515.02" y="348" font-size="5.2" textLength="2.76" lengthAdjust="spacingAndGlyphs">L</text>
<text x="522.5" y="348" font-size="5.2" textLength="13" lengthAdjust="spacingAndGlyphs">40/65</text>
<text x="541" y="348" font-size="5.2" textLength="38" lengthAdjust="spacingAndGlyphs">HG20592-97 PL65-0.6 RF</text>
<text x="587.94" y="348" font-size="5.2" textLength="7.43" lengthAdjust="spacingAndGlyphs">FM</text>
<text x="604.12" y="348" font-size="5.2" textLength="10.56" lengthAdjust="spacingAndGlyphs">液位口</text>
<text x="512.49" y="355.3" font-size="5.2" textLength="7.82" lengthAdjust="spacingAndGlyphs">M1-7</text>
<text x="522.5" y="355.3" font-size="5.2" textLength="7.8" lengthAdjust="spacingAndGlyphs">150</text>
<text x="541" y="355.3" font-size="5.2" textLength="38" lengthAdjust="spacingAndGlyphs">HG20592-97 PL150-0.6 RF</text>
<text x="587.94" y="355.3" font-size="5.2" textLength="7.43" lengthAdjust="spacingAndGlyphs">FM</text>
<text x="605.88" y="355.3" font-size="5.2" textLength="7.04" lengthAdjust="spacingAndGlyphs">手孔</text>
<text x="515.02" y="362.6" font-size="5.2" textLength="2.76" lengthAdjust="spacingAndGlyphs">N</text>
<text x="522.5" y="362.6" font-size="5.2" textLength="7.8" lengthAdjust="spacingAndGlyphs">500</text>
<text x="541" y="362.6" font-size="5.2" textLength="38" lengthAdjust="spacingAndGlyphs">HG20592-97 PL500-0.6 RF</text>
<text x="587.94" y="362.6" font-size="5.2" textLength="7.43" lengthAdjust="spacingAndGlyphs">FM</text>
<text x="604.12" y="362.6" font-size="5.2" textLength="10.56" lengthAdjust="spacingAndGlyphs">检查孔</text>
<text x="512.49" y="369.9" font-size="5.2" textLength="7.82" lengthAdjust="spacingAndGlyphs">P1-5</text>
<text x="522.5" y="369.9" font-size="5.2" textLength="7.8" lengthAdjust="spacingAndGlyphs">500</text>
<text x="605.88" y="369.9" font-size="5.2" textLength="7.04" lengthAdjust="spacingAndGlyphs">备用</text>
<text x="515.02" y="377.2" font-size="5.2" textLength="2.76" lengthAdjust="spacingAndGlyphs">T</text>
<text x="522.5" y="377.2" font-size="5.2" textLength="5.2" lengthAdjust="spacingAndGlyphs">40</text>
<text x="541" y="377.2" font-size="5.2" textLength="38" lengthAdjust="spacingAndGlyphs">HG20592-97 SO40-1.6 RF</text>
<text x="587.94" y="377.2" font-size="5.2" textLength="7.43" lengthAdjust="spacingAndGlyphs">FM</text>
<text x="604.12" y="377.2" font-size="5.2" textLength="10.56" lengthAdjust="spacingAndGlyphs">放净口</text>
<text x="553" y="393" font-size="6" textLength="3.8" lengthAdjust="spacingAndGlyphs">技</text>
<text x="561.5" y="393" font-size="6" textLength="3.8" lengthAdjust="spacingAndGlyphs">术</text>
<text x="570" y="393" font-size="6" textLength="3.8" lengthAdjust="spacingAndGlyphs">特</text>
<text x="578" y="393" font-size="6" textLength="3.8" lengthAdjust="spacingAndGlyphs">性</text>
<text x="586" y="393" font-size="6" textLength="3.8" lengthAdjust="spacingAndGlyphs">表</text>
<text x="562.43" y="402.2" font-size="4.6" textLength="5.75" lengthAdjust="spacingAndGlyphs">壳程</text>
<text x="598.43" y="402.2" font-size="4.6" textLength="5.73" lengthAdjust="spacingAndGlyphs">管程</text>
<text x="519.5" y="409.1" font-size="5" textLength="17.2" lengthAdjust="spacingAndGlyphs">设计压力 MPa</text>
<text x="562.51" y="408.7" font-size="4.4" textLength="5.58" lengthAdjust="spacingAndGlyphs">1.1</text>
<text x="598.43" y="408.7" font-size="4.4" textLength="5.73" lengthAdjust="spacingAndGlyphs">2.8</text>
<text x="519.5" y="416.4" font-size="5" textLength="17.2" lengthAdjust="spacingAndGlyphs">工作压力 MPa</text>
<text x="562.51" y="416" font-size="4.4" textLength="5.58" lengthAdjust="spacingAndGlyphs">0.8</text>
<text x="598.43" y="416" font-size="4.4" textLength="5.73" lengthAdjust="spacingAndGlyphs">2.5</text>
<text x="519.5" y="423.7" font-size="5" textLength="13.4" lengthAdjust="spacingAndGlyphs">设计温度 ℃</text>
<text x="562.51" y="423.3" font-size="4.4" textLength="5.58" lengthAdjust="spacingAndGlyphs">450</text>
<text x="598.43" y="423.3" font-size="4.4" textLength="5.73" lengthAdjust="spacingAndGlyphs">250</text>
<text x="519.5" y="431" font-size="5" textLength="13.4" lengthAdjust="spacingAndGlyphs">工作温度 ℃</text>
<text x="562.51" y="430.6" font-size="4.4" textLength="5.58" lengthAdjust="spacingAndGlyphs">425</text>
<text x="598.43" y="430.6" font-size="4.4" textLength="5.73" lengthAdjust="spacingAndGlyphs">225</text>
<text x="521" y="438.3" font-size="5" textLength="9.6" lengthAdjust="spacingAndGlyphs">物料名称</text>
<text x="556.93" y="437.9" font-size="4.4" textLength="16.73" lengthAdjust="spacingAndGlyphs">催化剂、烟气、油气</text>
<text x="598.43" y="437.9" font-size="4.4" textLength="5.73" lengthAdjust="spacingAndGlyphs">饱和水</text>
<text x="521" y="445.6" font-size="5" textLength="9.6" lengthAdjust="spacingAndGlyphs">腐蚀裕量</text>
<text x="558.79" y="445.2" font-size="4.4" textLength="13.01" lengthAdjust="spacingAndGlyphs">壳体 3 内件</text>
<text x="596.52" y="445.2" font-size="4.4" textLength="9.55" lengthAdjust="spacingAndGlyphs">1.5 管</text>
<text x="519.5" y="452.9" font-size="5" textLength="15.3" lengthAdjust="spacingAndGlyphs">换热面积 m²</text>
<text x="581.88" y="452.5" font-size="4.4" textLength="5.04" lengthAdjust="spacingAndGlyphs">150</text>
<text x="521" y="460.2" font-size="5" textLength="9.6" lengthAdjust="spacingAndGlyphs">焊缝系数</text>
<text x="583.32" y="459.8" font-size="4.4" textLength="2.16" lengthAdjust="spacingAndGlyphs">1</text>
<text x="521" y="467.5" font-size="5" textLength="9.6" lengthAdjust="spacingAndGlyphs">容器类别</text>
<text x="583.32" y="467.1" font-size="4.4" textLength="2.16" lengthAdjust="spacingAndGlyphs">Ⅰ</text>
<text x="519.5" y="474.8" font-size="5" textLength="13.4" lengthAdjust="spacingAndGlyphs">全容积 m³</text>
<text x="581.88" y="474.4" font-size="4.4" textLength="5.04" lengthAdjust="spacingAndGlyphs">110</text>
<text x="521" y="482.1" font-size="5" textLength="9.6" lengthAdjust="spacingAndGlyphs">保温厚度</text>
<text x="582.6" y="481.7" font-size="4.4" textLength="3.6" lengthAdjust="spacingAndGlyphs">80</text>
<text x="521" y="489.4" font-size="5" textLength="9.6" lengthAdjust="spacingAndGlyphs">保温材料</text>
<text x="582.6" y="489" font-size="4.4" textLength="3.6" lengthAdjust="spacingAndGlyphs">岩棉</text>
<text x="521" y="496.7" font-size="5" textLength="9.6" lengthAdjust="spacingAndGlyphs">基本风压</text>
<text x="583.32" y="496.3" font-size="4.4" textLength="2.16" lengthAdjust="spacingAndGlyphs">0</text>
<text x="521" y="504" font-size="5" textLength="9.6" lengthAdjust="spacingAndGlyphs">地震烈度</text>
<text x="582.6" y="503.6" font-size="4.4" textLength="3.6" lengthAdjust="spacingAndGlyphs">7度</text>
<text x="521" y="511.3" font-size="5" textLength="11.5" lengthAdjust="spacingAndGlyphs">设备净质量</text>
<text x="569.64" y="510.9" font-size="4.4" textLength="29.52" lengthAdjust="spacingAndGlyphs">约17700kg(其中不锈钢700kg)</text>
<text x="519.5" y="518.6" font-size="5" textLength="15.3" lengthAdjust="spacingAndGlyphs">水压试验时质量</text>
<text x="571.08" y="518.2" font-size="4.4" textLength="26.64" lengthAdjust="spacingAndGlyphs">100000(壳程)/900(管程)</text>
<text x="635.78" y="262.9" font-size="5.4" textLength="5.63" lengthAdjust="spacingAndGlyphs">63</text>
<text x="677.2" y="262.9" font-size="5.2" textLength="6.7" lengthAdjust="spacingAndGlyphs" class="c">封头</text>
<text x="685.39" y="262.9" font-size="5.8" textLength="24.99" lengthAdjust="spacingAndGlyphs" class="l">EHA1200x12</text>
<text x="719.08" y="262.9" font-size="5" textLength="2.55" lengthAdjust="spacingAndGlyphs">1</text>
<text x="731.41" y="262.9" font-size="5.8" textLength="14.28" lengthAdjust="spacingAndGlyphs" class="l">16MnR</text>
<text x="762.96" y="262.9" font-size="5" textLength="6.07" lengthAdjust="spacingAndGlyphs">280</text>
<text x="635.78" y="270.18" font-size="5.4" textLength="5.63" lengthAdjust="spacingAndGlyphs">62</text>
<text x="677.2" y="270.18" font-size="5.2" textLength="5.27" lengthAdjust="spacingAndGlyphs" class="c">筒体</text>
<text x="683.73" y="270.18" font-size="5.8" textLength="30.97" lengthAdjust="spacingAndGlyphs" class="l">DN1200x12 H=2000</text>
<text x="719.08" y="270.18" font-size="5" textLength="2.55" lengthAdjust="spacingAndGlyphs">1</text>
<text x="731.41" y="270.18" font-size="5.8" textLength="14.28" lengthAdjust="spacingAndGlyphs" class="l">16MnR</text>
<text x="762.96" y="270.18" font-size="5" textLength="6.07" lengthAdjust="spacingAndGlyphs">720</text>
<text x="771.8" y="270.18" font-size="5.2" textLength="6.7" lengthAdjust="spacingAndGlyphs" class="c">外购</text>
<text x="635.78" y="277.47" font-size="5.4" textLength="5.63" lengthAdjust="spacingAndGlyphs">61</text>
<text x="677.2" y="277.47" font-size="5.2" textLength="6.7" lengthAdjust="spacingAndGlyphs" class="c">封头</text>
<text x="685.39" y="277.47" font-size="5.8" textLength="24.99" lengthAdjust="spacingAndGlyphs" class="l">EHA1200x12</text>
<text x="719.08" y="277.47" font-size="5" textLength="2.55" lengthAdjust="spacingAndGlyphs">1</text>
<text x="731.41" y="277.47" font-size="5.8" textLength="14.28" lengthAdjust="spacingAndGlyphs" class="l">16MnR</text>
<text x="762.96" y="277.47" font-size="5" textLength="6.07" lengthAdjust="spacingAndGlyphs">280</text>
<text x="635.78" y="284.75" font-size="5.4" textLength="5.63" lengthAdjust="spacingAndGlyphs">60</text>
<text x="658" y="284.75" font-size="5.2" textLength="7.1" lengthAdjust="spacingAndGlyphs" class="c">本图</text>
<text x="677.2" y="284.75" font-size="5.2" textLength="6.7" lengthAdjust="spacingAndGlyphs" class="c">挡板</text>
<text x="719.08" y="284.75" font-size="5" textLength="2.55" lengthAdjust="spacingAndGlyphs">1</text>
<text x="730.9" y="284.75" font-size="5.8" textLength="15.29" lengthAdjust="spacingAndGlyphs" class="l">Q235-A</text>
<text x="762.96" y="284.75" font-size="5" textLength="6.07" lengthAdjust="spacingAndGlyphs">3.5</text>
<text x="635.78" y="292.03" font-size="5.4" textLength="5.63" lengthAdjust="spacingAndGlyphs">59</text>
<text x="677.2" y="292.03" font-size="5.2" textLength="6.49" lengthAdjust="spacingAndGlyphs" class="c">接管</text>
<text x="685.15" y="292.03" font-size="5.8" textLength="29.55" lengthAdjust="spacingAndGlyphs" class="l">Φ530x10 L=300</text>
<text x="719.08" y="292.03" font-size="5" textLength="2.55" lengthAdjust="spacingAndGlyphs">1</text>
<text x="736.18" y="292.03" font-size="5.8" textLength="4.73" lengthAdjust="spacingAndGlyphs" class="l">20</text>
<text x="761.95" y="292.03" font-size="5" textLength="8.1" lengthAdjust="spacingAndGlyphs">38.2</text>
<text x="635.78" y="299.31" font-size="5.4" textLength="5.63" lengthAdjust="spacingAndGlyphs">58</text>
<text x="648.65" y="299.31" font-size="5.8" textLength="25.6" lengthAdjust="spacingAndGlyphs" class="l">JB/T4725-92</text>
<text x="677.2" y="299.31" font-size="5.2" textLength="6.7" lengthAdjust="spacingAndGlyphs" class="c">耳座</text>
<text x="685.39" y="299.31" font-size="5.8" textLength="4.95" lengthAdjust="spacingAndGlyphs" class="l">A3</text>
<text x="719.08" y="299.31" font-size="5" textLength="2.55" lengthAdjust="spacingAndGlyphs">4</text>
<text x="726.2" y="299.31" font-size="5.8" textLength="24.7" lengthAdjust="spacingAndGlyphs" class="l">Q235-A/16MnR</text>
<text x="756.15" y="299.31" font-size="5" textLength="1.89" lengthAdjust="spacingAndGlyphs">5</text>
<text x="763.98" y="299.31" font-size="5" textLength="4.05" lengthAdjust="spacingAndGlyphs">20</text>
<text x="635.78" y="306.6" font-size="5.4" textLength="5.63" lengthAdjust="spacingAndGlyphs">57</text>
<text x="648.65" y="306.6" font-size="5.8" textLength="25.6" lengthAdjust="spacingAndGlyphs" class="l">HG20613-97</text>
<text x="677.2" y="306.6" font-size="5.2" textLength="6.7" lengthAdjust="spacingAndGlyphs" class="c">螺栓</text>
<text x="685.39" y="306.6" font-size="5.8" textLength="17.35" lengthAdjust="spacingAndGlyphs" class="l">M20x140</text>
<text x="717.8" y="306.6" font-size="5" textLength="5.1" lengthAdjust="spacingAndGlyphs">20</text>
<text x="729.15" y="306.6" font-size="5.8" textLength="18.81" lengthAdjust="spacingAndGlyphs" class="l">35CrMoA</text>
<text x="753.32" y="306.6" font-size="5" textLength="7.57" lengthAdjust="spacingAndGlyphs">0.35</text>
<text x="762.96" y="306.6" font-size="5" textLength="6.07" lengthAdjust="spacingAndGlyphs">7.0</text>
<text x="635.78" y="313.88" font-size="5.4" textLength="5.63" lengthAdjust="spacingAndGlyphs">56</text>
<text x="677.2" y="313.88" font-size="5.2" textLength="5.27" lengthAdjust="spacingAndGlyphs" class="c">筒体</text>
<text x="683.73" y="313.88" font-size="5.8" textLength="30.97" lengthAdjust="spacingAndGlyphs" class="l">DN1200x12 H=2000</text>
<text x="719.08" y="313.88" font-size="5" textLength="2.55" lengthAdjust="spacingAndGlyphs">1</text>
<text x="731.41" y="313.88" font-size="5.8" textLength="14.28" lengthAdjust="spacingAndGlyphs" class="l">16MnR</text>
<text x="762.96" y="313.88" font-size="5" textLength="6.07" lengthAdjust="spacingAndGlyphs">720</text>
<text x="771.8" y="313.88" font-size="5.2" textLength="6.7" lengthAdjust="spacingAndGlyphs" class="c">外购</text>
<text x="635.78" y="321.16" font-size="5.4" textLength="5.63" lengthAdjust="spacingAndGlyphs">55</text>
<text x="648.65" y="321.16" font-size="5.8" textLength="25.6" lengthAdjust="spacingAndGlyphs" class="l">HG20613-97</text>
<text x="677.2" y="321.16" font-size="5.2" textLength="6.7" lengthAdjust="spacingAndGlyphs" class="c">螺栓</text>
<text x="685.39" y="321.16" font-size="5.8" textLength="14.97" lengthAdjust="spacingAndGlyphs" class="l">M16x65</text>
<text x="719.08" y="321.16" font-size="5" textLength="2.55" lengthAdjust="spacingAndGlyphs">8</text>
<text x="729.15" y="321.16" font-size="5.8" textLength="18.81" lengthAdjust="spacingAndGlyphs" class="l">35CrMoA</text>
<text x="753.32" y="321.16" font-size="5" textLength="7.57" lengthAdjust="spacingAndGlyphs">0.11</text>
<text x="761.95" y="321.16" font-size="5" textLength="8.1" lengthAdjust="spacingAndGlyphs">0.88</text>
<text x="635.78" y="328.44" font-size="5.4" textLength="5.63" lengthAdjust="spacingAndGlyphs">54</text>
<text x="648.65" y="328.44" font-size="5.8" textLength="25.6" lengthAdjust="spacingAndGlyphs" class="l">HG20613-97</text>
<text x="677.2" y="328.44" font-size="5.2" textLength="6.7" lengthAdjust="spacingAndGlyphs" class="c">螺母</text>
<text x="685.39" y="328.44" font-size="5.8" textLength="8.05" lengthAdjust="spacingAndGlyphs" class="l">M20</text>
<text x="717.8" y="328.44" font-size="5" textLength="5.1" lengthAdjust="spacingAndGlyphs">32</text>
<text x="730.66" y="328.44" font-size="5.8" textLength="15.79" lengthAdjust="spacingAndGlyphs" class="l">30CrMo</text>
<text x="753.32" y="328.44" font-size="5" textLength="7.57" lengthAdjust="spacingAndGlyphs">0.05</text>
<text x="762.96" y="328.44" font-size="5" textLength="6.07" lengthAdjust="spacingAndGlyphs">1.7</text>
<text x="635.78" y="335.73" font-size="5.4" textLength="5.63" lengthAdjust="spacingAndGlyphs">53</text>
<text x="658" y="335.73" font-size="5.2" textLength="7.1" lengthAdjust="spacingAndGlyphs" class="c">本图</text>
<text x="677.2" y="335.73" font-size="5.2" textLength="6.7" lengthAdjust="spacingAndGlyphs" class="c">吊耳</text>
<text x="685.59" y="335.73" font-size="5.2" textLength="3.1" lengthAdjust="spacingAndGlyphs" class="c">板</text>
<text x="719.08" y="335.73" font-size="5" textLength="2.55" lengthAdjust="spacingAndGlyphs">2</text>
<text x="731.41" y="335.73" font-size="5.8" textLength="14.28" lengthAdjust="spacingAndGlyphs" class="l">16MnR</text>
<text x="755.21" y="335.73" font-size="5" textLength="3.78" lengthAdjust="spacingAndGlyphs">28</text>
<text x="763.98" y="335.73" font-size="5" textLength="4.05" lengthAdjust="spacingAndGlyphs">56</text>
<text x="635.78" y="343.01" font-size="5.4" textLength="5.63" lengthAdjust="spacingAndGlyphs">52</text>
<text x="648.65" y="343.01" font-size="5.8" textLength="25.6" lengthAdjust="spacingAndGlyphs" class="l">HG20606-97</text>
<text x="677.2" y="343.01" font-size="5.2" textLength="6.24" lengthAdjust="spacingAndGlyphs" class="c">垫片</text>
<text x="684.85" y="343.01" font-size="5.8" textLength="29.85" lengthAdjust="spacingAndGlyphs" class="l">RF 500-0.6 0222</text>
<text x="719.08" y="343.01" font-size="5" textLength="2.55" lengthAdjust="spacingAndGlyphs">1</text>
<text x="726.2" y="343.01" font-size="5.8" textLength="18.48" lengthAdjust="spacingAndGlyphs" class="l">0Cr18Ni9+</text>
<text x="745.18" y="343.01" font-size="5.2" textLength="5.72" lengthAdjust="spacingAndGlyphs" class="c">石墨</text>
<text x="756.15" y="343.01" font-size="5" textLength="1.89" lengthAdjust="spacingAndGlyphs">/</text>
<text x="764.99" y="343.01" font-size="5" textLength="2.02" lengthAdjust="spacingAndGlyphs">/</text>
<text x="635.78" y="350.29" font-size="5.4" textLength="5.63" lengthAdjust="spacingAndGlyphs">51</text>
<text x="648.65" y="350.29" font-size="5.8" textLength="25.6" lengthAdjust="spacingAndGlyphs" class="l">JB/T4736-95</text>
<text x="677.2" y="350.29" font-size="5.2" textLength="10.3" lengthAdjust="spacingAndGlyphs" class="c">补强圈</text>
<text x="688.99" y="350.29" font-size="5.8" textLength="19.27" lengthAdjust="spacingAndGlyphs" class="l">dN500x12</text>
<text x="719.08" y="350.29" font-size="5" textLength="2.55" lengthAdjust="spacingAndGlyphs">1</text>
<text x="731.41" y="350.29" font-size="5.8" textLength="14.28" lengthAdjust="spacingAndGlyphs" class="l">16MnR</text>
<text x="755.21" y="350.29" font-size="5" textLength="3.78" lengthAdjust="spacingAndGlyphs">28</text>
<text x="763.98" y="350.29" font-size="5" textLength="4.05" lengthAdjust="spacingAndGlyphs">28</text>
<text x="635.78" y="357.57" font-size="5.4" textLength="5.63" lengthAdjust="spacingAndGlyphs">50</text>
<text x="677.2" y="357.57" font-size="5.2" textLength="6.7" lengthAdjust="spacingAndGlyphs" class="c">接管</text>
<text x="685.39" y="357.57" font-size="5.8" textLength="29.26" lengthAdjust="spacingAndGlyphs" class="l">Φ57x3.5 L=150</text>
<text x="719.08" y="357.57" font-size="5" textLength="2.55" lengthAdjust="spacingAndGlyphs">1</text>
<text x="736.18" y="357.57" font-size="5.8" textLength="4.73" lengthAdjust="spacingAndGlyphs" class="l">20</text>
<text x="761.95" y="357.57" font-size="5" textLength="8.1" lengthAdjust="spacingAndGlyphs">0.54</text>
<text x="635.78" y="364.86" font-size="5.4" textLength="5.63" lengthAdjust="spacingAndGlyphs">49</text>
<text x="648.65" y="364.86" font-size="5.8" textLength="25.6" lengthAdjust="spacingAndGlyphs" class="l">HG20613-97</text>
<text x="677.2" y="364.86" font-size="5.2" textLength="6.7" lengthAdjust="spacingAndGlyphs" class="c">螺栓</text>
<text x="685.39" y="364.86" font-size="5.8" textLength="17.35" lengthAdjust="spacingAndGlyphs" class="l">M16x100</text>
<text x="717.8" y="364.86" font-size="5" textLength="5.1" lengthAdjust="spacingAndGlyphs">16</text>
<text x="729.15" y="364.86" font-size="5.8" textLength="18.81" lengthAdjust="spacingAndGlyphs" class="l">35CrMoA</text>
<text x="753.32" y="364.86" font-size="5" textLength="7.57" lengthAdjust="spacingAndGlyphs">0.15</text>
<text x="761.95" y="364.86" font-size="5" textLength="8.1" lengthAdjust="spacingAndGlyphs">2.35</text>
<text x="635.78" y="372.14" font-size="5.4" textLength="5.63" lengthAdjust="spacingAndGlyphs">48</text>
<text x="648.65" y="372.14" font-size="5.8" textLength="25.6" lengthAdjust="spacingAndGlyphs" class="l">HG20592-97</text>
<text x="677.2" y="372.14" font-size="5.2" textLength="4.96" lengthAdjust="spacingAndGlyphs" class="c">法兰</text>
<text x="683.36" y="372.14" font-size="5.8" textLength="31.34" lengthAdjust="spacingAndGlyphs" class="l">PL500-0.6 RF 16MnR</text>
<text x="719.08" y="372.14" font-size="5" textLength="2.55" lengthAdjust="spacingAndGlyphs">4</text>
<text x="731.41" y="372.14" font-size="5.8" textLength="14.28" lengthAdjust="spacingAndGlyphs" class="l">16MnR</text>
<text x="754.26" y="372.14" font-size="5" textLength="5.68" lengthAdjust="spacingAndGlyphs">5.9</text>
<text x="761.95" y="372.14" font-size="5" textLength="8.1" lengthAdjust="spacingAndGlyphs">23.6</text>
<text x="771.6" y="372.14" font-size="5.6" textLength="16.96" lengthAdjust="spacingAndGlyphs" class="l">JB/T4726</text>
<text x="635.78" y="379.42" font-size="5.4" textLength="5.63" lengthAdjust="spacingAndGlyphs">47</text>
<text x="648.65" y="379.42" font-size="5.8" textLength="25.6" lengthAdjust="spacingAndGlyphs" class="l">HG20592-97</text>
<text x="677.2" y="379.42" font-size="5.2" textLength="6.7" lengthAdjust="spacingAndGlyphs" class="c">法兰</text>
<text x="685.39" y="379.42" font-size="5.8" textLength="26.42" lengthAdjust="spacingAndGlyphs" class="l">PL500-0.6 RF</text>
<text x="719.08" y="379.42" font-size="5" textLength="2.55" lengthAdjust="spacingAndGlyphs">1</text>
<text x="731.24" y="379.42" font-size="5.8" textLength="11.02" lengthAdjust="spacingAndGlyphs" class="l">16Mn</text>
<text x="742.76" y="379.42" font-size="5.2" textLength="3.1" lengthAdjust="spacingAndGlyphs" class="c">Ⅱ</text>
<text x="762.96" y="379.42" font-size="5" textLength="6.07" lengthAdjust="spacingAndGlyphs">111</text>
<text x="771.6" y="379.42" font-size="5.6" textLength="8.78" lengthAdjust="spacingAndGlyphs" class="l">δ=10</text>
<text x="635.78" y="386.7" font-size="5.4" textLength="5.63" lengthAdjust="spacingAndGlyphs">46</text>
<text x="649.28" y="386.7" font-size="5.8" textLength="24.34" lengthAdjust="spacingAndGlyphs" class="l">GB/T706-88</text>
<text x="677.2" y="386.7" font-size="5.2" textLength="6.7" lengthAdjust="spacingAndGlyphs" class="c">角钢</text>
<text x="685.39" y="386.7" font-size="5.8" textLength="18.31" lengthAdjust="spacingAndGlyphs" class="l">L50x50x5</text>
<text x="719.08" y="386.7" font-size="5" textLength="2.55" lengthAdjust="spacingAndGlyphs">8</text>
<text x="730.9" y="386.7" font-size="5.8" textLength="15.29" lengthAdjust="spacingAndGlyphs" class="l">Q235-A</text>
<text x="754.26" y="386.7" font-size="5" textLength="5.68" lengthAdjust="spacingAndGlyphs">4.8</text>
<text x="761.95" y="386.7" font-size="5" textLength="8.1" lengthAdjust="spacingAndGlyphs">38.2</text>
<text x="635.78" y="393.99" font-size="5.4" textLength="5.63" lengthAdjust="spacingAndGlyphs">45</text>
<text x="648.65" y="393.99" font-size="5.8" textLength="25.6" lengthAdjust="spacingAndGlyphs" class="l">HG20613-97</text>
<text x="677.2" y="393.99" font-size="5.2" textLength="6.7" lengthAdjust="spacingAndGlyphs" class="c">螺母</text>
<text x="685.39" y="393.99" font-size="5.8" textLength="8.05" lengthAdjust="spacingAndGlyphs" class="l">M16</text>
<text x="717.8" y="393.99" font-size="5" textLength="5.1" lengthAdjust="spacingAndGlyphs">16</text>
<text x="730.66" y="393.99" font-size="5.8" textLength="15.79" lengthAdjust="spacingAndGlyphs" class="l">30CrMo</text>
<text x="753.32" y="393.99" font-size="5" textLength="7.57" lengthAdjust="spacingAndGlyphs">0.03</text>
<text x="761.95" y="393.99" font-size="5" textLength="8.1" lengthAdjust="spacingAndGlyphs">0.48</text>
<text x="635.78" y="401.27" font-size="5.4" textLength="5.63" lengthAdjust="spacingAndGlyphs">44</text>
<text x="677.2" y="401.27" font-size="5.2" textLength="6.7" lengthAdjust="spacingAndGlyphs" class="c">封头</text>
<text x="685.39" y="401.27" font-size="5.8" textLength="24.99" lengthAdjust="spacingAndGlyphs" class="l">EHA1200x12</text>
<text x="719.08" y="401.27" font-size="5" textLength="2.55" lengthAdjust="spacingAndGlyphs">1</text>
<text x="731.41" y="401.27" font-size="5.8" textLength="14.28" lengthAdjust="spacingAndGlyphs" class="l">16MnR</text>
<text x="762.96" y="401.27" font-size="5" textLength="6.07" lengthAdjust="spacingAndGlyphs">280</text>
<text x="635.78" y="408.55" font-size="5.4" textLength="5.63" lengthAdjust="spacingAndGlyphs">43</text>
<text x="658" y="408.55" font-size="5.2" textLength="7.1" lengthAdjust="spacingAndGlyphs" class="c">本图</text>
<text x="677.2" y="408.55" font-size="5.2" textLength="6.7" lengthAdjust="spacingAndGlyphs" class="c">挡板</text>
<text x="719.08" y="408.55" font-size="5" textLength="2.55" lengthAdjust="spacingAndGlyphs">1</text>
<text x="730.9" y="408.55" font-size="5.8" textLength="15.29" lengthAdjust="spacingAndGlyphs" class="l">Q235-A</text>
<text x="762.96" y="408.55" font-size="5" textLength="6.07" lengthAdjust="spacingAndGlyphs">3.5</text>
<text x="635.78" y="415.83" font-size="5.4" textLength="5.63" lengthAdjust="spacingAndGlyphs">42</text>
<text x="677.2" y="415.83" font-size="5.2" textLength="6.49" lengthAdjust="spacingAndGlyphs" class="c">接管</text>
<text x="685.15" y="415.83" font-size="5.8" textLength="29.55" lengthAdjust="spacingAndGlyphs" class="l">Φ530x10 L=300</text>
<text x="719.08" y="415.83" font-size="5" textLength="2.55" lengthAdjust="spacingAndGlyphs">1</text>
<text x="736.18" y="415.83" font-size="5.8" textLength="4.73" lengthAdjust="spacingAndGlyphs" class="l">20</text>
<text x="761.95" y="415.83" font-size="5" textLength="8.1" lengthAdjust="spacingAndGlyphs">38.2</text>
<text x="635.78" y="423.12" font-size="5.4" textLength="5.63" lengthAdjust="spacingAndGlyphs">41</text>
<text x="648.65" y="423.12" font-size="5.8" textLength="25.6" lengthAdjust="spacingAndGlyphs" class="l">JB/T4725-92</text>
<text x="677.2" y="423.12" font-size="5.2" textLength="6.7" lengthAdjust="spacingAndGlyphs" class="c">耳座</text>
<text x="685.39" y="423.12" font-size="5.8" textLength="4.95" lengthAdjust="spacingAndGlyphs" class="l">A3</text>
<text x="719.08" y="423.12" font-size="5" textLength="2.55" lengthAdjust="spacingAndGlyphs">4</text>
<text x="726.2" y="423.12" font-size="5.8" textLength="24.7" lengthAdjust="spacingAndGlyphs" class="l">Q235-A/16MnR</text>
<text x="756.15" y="423.12" font-size="5" textLength="1.89" lengthAdjust="spacingAndGlyphs">5</text>
<text x="763.98" y="423.12" font-size="5" textLength="4.05" lengthAdjust="spacingAndGlyphs">20</text>
<text x="635.78" y="430.4" font-size="5.4" textLength="5.63" lengthAdjust="spacingAndGlyphs">40</text>
<text x="648.65" y="430.4" font-size="5.8" textLength="25.6" lengthAdjust="spacingAndGlyphs" class="l">HG20613-97</text>
<text x="677.2" y="430.4" font-size="5.2" textLength="6.7" lengthAdjust="spacingAndGlyphs" class="c">螺栓</text>
<text x="685.39" y="430.4" font-size="5.8" textLength="17.35" lengthAdjust="spacingAndGlyphs" class="l">M20x140</text>
<text x="717.8" y="430.4" font-size="5" textLength="5.1" lengthAdjust="spacingAndGlyphs">20</text>
<text x="729.15" y="430.4" font-size="5.8" textLength="18.81" lengthAdjust="spacingAndGlyphs" class="l">35CrMoA</text>
<text x="753.32" y="430.4" font-size="5" textLength="7.57" lengthAdjust="spacingAndGlyphs">0.35</text>
<text x="762.96" y="430.4" font-size="5" textLength="6.07" lengthAdjust="spacingAndGlyphs">7.0</text>
<text x="635.78" y="437.68" font-size="5.4" textLength="5.63" lengthAdjust="spacingAndGlyphs">39</text>
<text x="677.2" y="437.68" font-size="5.2" textLength="5.27" lengthAdjust="spacingAndGlyphs" class="c">筒体</text>
<text x="683.73" y="437.68" font-size="5.8" textLength="30.97" lengthAdjust="spacingAndGlyphs" class="l">DN1200x12 H=2000</text>
<text x="719.08" y="437.68" font-size="5" textLength="2.55" lengthAdjust="spacingAndGlyphs">1</text>
<text x="731.41" y="437.68" font-size="5.8" textLength="14.28" lengthAdjust="spacingAndGlyphs" class="l">16MnR</text>
<text x="762.96" y="437.68" font-size="5" textLength="6.07" lengthAdjust="spacingAndGlyphs">720</text>
<text x="771.8" y="437.68" font-size="5.2" textLength="6.7" lengthAdjust="spacingAndGlyphs" class="c">外购</text>
<text x="635.78" y="444.96" font-size="5.4" textLength="5.63" lengthAdjust="spacingAndGlyphs">38</text>
<text x="648.65" y="444.96" font-size="5.8" textLength="25.6" lengthAdjust="spacingAndGlyphs" class="l">HG20613-97</text>
<text x="677.2" y="444.96" font-size="5.2" textLength="6.7" lengthAdjust="spacingAndGlyphs" class="c">螺栓</text>
<text x="685.39" y="444.96" font-size="5.8" textLength="14.97" lengthAdjust="spacingAndGlyphs" class="l">M16x65</text>
<text x="719.08" y="444.96" font-size="5" textLength="2.55" lengthAdjust="spacingAndGlyphs">8</text>
<text x="729.15" y="444.96" font-size="5.8" textLength="18.81" lengthAdjust="spacingAndGlyphs" class="l">35CrMoA</text>
<text x="753.32" y="444.96" font-size="5" textLength="7.57" lengthAdjust="spacingAndGlyphs">0.11</text>
<text x="761.95" y="444.96" font-size="5" textLength="8.1" lengthAdjust="spacingAndGlyphs">0.88</text>
<text x="635.78" y="452.25" font-size="5.4" textLength="5.63" lengthAdjust="spacingAndGlyphs">37</text>
<text x="648.65" y="452.25" font-size="5.8" textLength="25.6" lengthAdjust="spacingAndGlyphs" class="l">HG20613-97</text>
<text x="677.2" y="452.25" font-size="5.2" textLength="6.7" lengthAdjust="spacingAndGlyphs" class="c">螺母</text>
<text x="685.39" y="452.25" font-size="5.8" textLength="8.05" lengthAdjust="spacingAndGlyphs" class="l">M20</text>
<text x="717.8" y="452.25" font-size="5" textLength="5.1" lengthAdjust="spacingAndGlyphs">32</text>
<text x="730.66" y="452.25" font-size="5.8" textLength="15.79" lengthAdjust="spacingAndGlyphs" class="l">30CrMo</text>
<text x="753.32" y="452.25" font-size="5" textLength="7.57" lengthAdjust="spacingAndGlyphs">0.05</text>
<text x="762.96" y="452.25" font-size="5" textLength="6.07" lengthAdjust="spacingAndGlyphs">1.7</text>
<text x="635.78" y="459.53" font-size="5.4" textLength="5.63" lengthAdjust="spacingAndGlyphs">36</text>
<text x="658" y="459.53" font-size="5.2" textLength="7.1" lengthAdjust="spacingAndGlyphs" class="c">本图</text>
<text x="677.2" y="459.53" font-size="5.2" textLength="6.7" lengthAdjust="spacingAndGlyphs" class="c">吊耳</text>
<text x="685.59" y="459.53" font-size="5.2" textLength="3.1" lengthAdjust="spacingAndGlyphs" class="c">板</text>
<text x="719.08" y="459.53" font-size="5" textLength="2.55" lengthAdjust="spacingAndGlyphs">2</text>
<text x="731.41" y="459.53" font-size="5.8" textLength="14.28" lengthAdjust="spacingAndGlyphs" class="l">16MnR</text>
<text x="755.21" y="459.53" font-size="5" textLength="3.78" lengthAdjust="spacingAndGlyphs">28</text>
<text x="763.98" y="459.53" font-size="5" textLength="4.05" lengthAdjust="spacingAndGlyphs">56</text>
<text x="635.78" y="466.81" font-size="5.4" textLength="5.63" lengthAdjust="spacingAndGlyphs">35</text>
<text x="648.65" y="466.81" font-size="5.8" textLength="25.6" lengthAdjust="spacingAndGlyphs" class="l">HG20606-97</text>
<text x="677.2" y="466.81" font-size="5.2" textLength="6.24" lengthAdjust="spacingAndGlyphs" class="c">垫片</text>
<text x="684.85" y="466.81" font-size="5.8" textLength="29.85" lengthAdjust="spacingAndGlyphs" class="l">RF 500-0.6 0222</text>
<text x="719.08" y="466.81" font-size="5" textLength="2.55" lengthAdjust="spacingAndGlyphs">1</text>
<text x="726.2" y="466.81" font-size="5.8" textLength="18.48" lengthAdjust="spacingAndGlyphs" class="l">0Cr18Ni9+</text>
<text x="745.18" y="466.81" font-size="5.2" textLength="5.72" lengthAdjust="spacingAndGlyphs" class="c">石墨</text>
<text x="756.15" y="466.81" font-size="5" textLength="1.89" lengthAdjust="spacingAndGlyphs">/</text>
<text x="764.99" y="466.81" font-size="5" textLength="2.02" lengthAdjust="spacingAndGlyphs">/</text>
<text x="635.78" y="474.09" font-size="5.4" textLength="5.63" lengthAdjust="spacingAndGlyphs">34</text>
<text x="648.65" y="474.09" font-size="5.8" textLength="25.6" lengthAdjust="spacingAndGlyphs" class="l">JB/T4736-95</text>
<text x="677.2" y="474.09" font-size="5.2" textLength="10.3" lengthAdjust="spacingAndGlyphs" class="c">补强圈</text>
<text x="688.99" y="474.09" font-size="5.8" textLength="19.27" lengthAdjust="spacingAndGlyphs" class="l">dN500x12</text>
<text x="719.08" y="474.09" font-size="5" textLength="2.55" lengthAdjust="spacingAndGlyphs">1</text>
<text x="731.41" y="474.09" font-size="5.8" textLength="14.28" lengthAdjust="spacingAndGlyphs" class="l">16MnR</text>
<text x="755.21" y="474.09" font-size="5" textLength="3.78" lengthAdjust="spacingAndGlyphs">28</text>
<text x="763.98" y="474.09" font-size="5" textLength="4.05" lengthAdjust="spacingAndGlyphs">28</text>
<text x="635.78" y="481.38" font-size="5.4" textLength="5.63" lengthAdjust="spacingAndGlyphs">33</text>
<text x="677.2" y="481.38" font-size="5.2" textLength="6.7" lengthAdjust="spacingAndGlyphs" class="c">接管</text>
<text x="685.39" y="481.38" font-size="5.8" textLength="29.26" lengthAdjust="spacingAndGlyphs" class="l">Φ57x3.5 L=150</text>
<text x="719.08" y="481.38" font-size="5" textLength="2.55" lengthAdjust="spacingAndGlyphs">1</text>
<text x="736.18" y="481.38" font-size="5.8" textLength="4.73" lengthAdjust="spacingAndGlyphs" class="l">20</text>
<text x="761.95" y="481.38" font-size="5" textLength="8.1" lengthAdjust="spacingAndGlyphs">0.54</text>
<text x="635.78" y="488.66" font-size="5.4" textLength="5.63" lengthAdjust="spacingAndGlyphs">32</text>
<text x="648.65" y="488.66" font-size="5.8" textLength="25.6" lengthAdjust="spacingAndGlyphs" class="l">HG20613-97</text>
<text x="677.2" y="488.66" font-size="5.2" textLength="6.7" lengthAdjust="spacingAndGlyphs" class="c">螺栓</text>
<text x="685.39" y="488.66" font-size="5.8" textLength="17.35" lengthAdjust="spacingAndGlyphs" class="l">M16x100</text>
<text x="717.8" y="488.66" font-size="5" textLength="5.1" lengthAdjust="spacingAndGlyphs">16</text>
<text x="729.15" y="488.66" font-size="5.8" textLength="18.81" lengthAdjust="spacingAndGlyphs" class="l">35CrMoA</text>
<text x="753.32" y="488.66" font-size="5" textLength="7.57" lengthAdjust="spacingAndGlyphs">0.15</text>
<text x="761.95" y="488.66" font-size="5" textLength="8.1" lengthAdjust="spacingAndGlyphs">2.35</text>
<text x="635.78" y="495.94" font-size="5.4" textLength="5.63" lengthAdjust="spacingAndGlyphs">31</text>
<text x="648.65" y="495.94" font-size="5.8" textLength="25.6" lengthAdjust="spacingAndGlyphs" class="l">HG20592-97</text>
<text x="677.2" y="495.94" font-size="5.2" textLength="4.96" lengthAdjust="spacingAndGlyphs" class="c">法兰</text>
<text x="683.36" y="495.94" font-size="5.8" textLength="31.34" lengthAdjust="spacingAndGlyphs" class="l">PL500-0.6 RF 16MnR</text>
<text x="719.08" y="495.94" font-size="5" textLength="2.55" lengthAdjust="spacingAndGlyphs">4</text>
<text x="731.41" y="495.94" font-size="5.8" textLength="14.28" lengthAdjust="spacingAndGlyphs" class="l">16MnR</text>
<text x="754.26" y="495.94" font-size="5" textLength="5.68" lengthAdjust="spacingAndGlyphs">5.9</text>
<text x="761.95" y="495.94" font-size="5" textLength="8.1" lengthAdjust="spacingAndGlyphs">23.6</text>
<text x="771.6" y="495.94" font-size="5.6" textLength="16.96" lengthAdjust="spacingAndGlyphs" class="l">JB/T4726</text>
<text x="635.78" y="503.22" font-size="5.4" textLength="5.63" lengthAdjust="spacingAndGlyphs">30</text>
<text x="648.65" y="503.22" font-size="5.8" textLength="25.6" lengthAdjust="spacingAndGlyphs" class="l">HG20592-97</text>
<text x="677.2" y="503.22" font-size="5.2" textLength="6.7" lengthAdjust="spacingAndGlyphs" class="c">法兰</text>
<text x="685.39" y="503.22" font-size="5.8" textLength="26.42" lengthAdjust="spacingAndGlyphs" class="l">PL500-0.6 RF</text>
<text x="719.08" y="503.22" font-size="5" textLength="2.55" lengthAdjust="spacingAndGlyphs">1</text>
<text x="731.24" y="503.22" font-size="5.8" textLength="11.02" lengthAdjust="spacingAndGlyphs" class="l">16Mn</text>
<text x="742.76" y="503.22" font-size="5.2" textLength="3.1" lengthAdjust="spacingAndGlyphs" class="c">Ⅱ</text>
<text x="762.96" y="503.22" font-size="5" textLength="6.07" lengthAdjust="spacingAndGlyphs">111</text>
<text x="771.6" y="503.22" font-size="5.6" textLength="8.78" lengthAdjust="spacingAndGlyphs" class="l">δ=10</text>
<text x="635.78" y="510.51" font-size="5.4" textLength="5.63" lengthAdjust="spacingAndGlyphs">29</text>
<text x="649.28" y="510.51" font-size="5.8" textLength="24.34" lengthAdjust="spacingAndGlyphs" class="l">GB/T706-88</text>
<text x="677.2" y="510.51" font-size="5.2" textLength="6.7" lengthAdjust="spacingAndGlyphs" class="c">角钢</text>
<text x="685.39" y="510.51" font-size="5.8" textLength="18.31" lengthAdjust="spacingAndGlyphs" class="l">L50x50x5</text>
<text x="719.08" y="510.51" font-size="5" textLength="2.55" lengthAdjust="spacingAndGlyphs">8</text>
<text x="730.9" y="510.51" font-size="5.8" textLength="15.29" lengthAdjust="spacingAndGlyphs" class="l">Q235-A</text>
<text x="754.26" y="510.51" font-size="5" textLength="5.68" lengthAdjust="spacingAndGlyphs">4.8</text>
<text x="761.95" y="510.51" font-size="5" textLength="8.1" lengthAdjust="spacingAndGlyphs">38.2</text>
<text x="635.78" y="517.79" font-size="5.4" textLength="5.63" lengthAdjust="spacingAndGlyphs">28</text>
<text x="648.65" y="517.79" font-size="5.8" textLength="25.6" lengthAdjust="spacingAndGlyphs" class="l">HG20613-97</text>
<text x="677.2" y="517.79" font-size="5.2" textLength="6.7" lengthAdjust="spacingAndGlyphs" class="c">螺母</text>
<text x="685.39" y="517.79" font-size="5.8" textLength="8.05" lengthAdjust="spacingAndGlyphs" class="l">M16</text>
<text x="717.8" y="517.79" font-size="5" textLength="5.1" lengthAdjust="spacingAndGlyphs">16</text>
<text x="730.66" y="517.79" font-size="5.8" textLength="15.79" lengthAdjust="spacingAndGlyphs" class="l">30CrMo</text>
<text x="753.32" y="517.79" font-size="5" textLength="7.57" lengthAdjust="spacingAndGlyphs">0.03</text>
<text x="761.95" y="517.79" font-size="5" textLength="8.1" lengthAdjust="spacingAndGlyphs">0.48</text>
<text x="635.78" y="525.07" font-size="5.4" textLength="5.63" lengthAdjust="spacingAndGlyphs">27</text>
<text x="677.2" y="525.07" font-size="5.2" textLength="6.7" lengthAdjust="spacingAndGlyphs" class="c">封头</text>
<text x="685.39" y="525.07" font-size="5.8" textLength="24.99" lengthAdjust="spacingAndGlyphs" class="l">EHA1200x12</text>
<text x="719.08" y="525.07" font-size="5" textLength="2.55" lengthAdjust="spacingAndGlyphs">1</text>
<text x="731.41" y="525.07" font-size="5.8" textLength="14.28" lengthAdjust="spacingAndGlyphs" class="l">16MnR</text>
<text x="762.96" y="525.07" font-size="5" textLength="6.07" lengthAdjust="spacingAndGlyphs">280</text>
<text x="635.78" y="532.35" font-size="5.4" textLength="5.63" lengthAdjust="spacingAndGlyphs">26</text>
<text x="658" y="532.35" font-size="5.2" textLength="7.1" lengthAdjust="spacingAndGlyphs" class="c">本图</text>
<text x="677.2" y="532.35" font-size="5.2" textLength="6.7" lengthAdjust="spacingAndGlyphs" class="c">挡板</text>
<text x="719.08" y="532.35" font-size="5" textLength="2.55" lengthAdjust="spacingAndGlyphs">1</text>
<text x="730.9" y="532.35" font-size="5.8" textLength="15.29" lengthAdjust="spacingAndGlyphs" class="l">Q235-A</text>
<text x="762.96" y="532.35" font-size="5" textLength="6.07" lengthAdjust="spacingAndGlyphs">3.5</text>
<text x="635.78" y="539.64" font-size="5.4" textLength="5.63" lengthAdjust="spacingAndGlyphs">25</text>
<text x="677.2" y="539.64" font-size="5.2" textLength="6.49" lengthAdjust="spacingAndGlyphs" class="c">接管</text>
<text x="685.15" y="539.64" font-size="5.8" textLength="29.55" lengthAdjust="spacingAndGlyphs" class="l">Φ530x10 L=300</text>
<text x="719.08" y="539.64" font-size="5" textLength="2.55" lengthAdjust="spacingAndGlyphs">1</text>
<text x="736.18" y="539.64" font-size="5.8" textLength="4.73" lengthAdjust="spacingAndGlyphs" class="l">20</text>
<text x="761.95" y="539.64" font-size="5" textLength="8.1" lengthAdjust="spacingAndGlyphs">38.2</text>
<text x="635.78" y="546.92" font-size="5.4" textLength="5.63" lengthAdjust="spacingAndGlyphs">24</text>
<text x="648.65" y="546.92" font-size="5.8" textLength="25.6" lengthAdjust="spacingAndGlyphs" class="l">JB/T4725-92</text>
<text x="677.2" y="546.92" font-size="5.2" textLength="6.7" lengthAdjust="spacingAndGlyphs" class="c">耳座</text>
<text x="685.39" y="546.92" font-size="5.8" textLength="4.95" lengthAdjust="spacingAndGlyphs" class="l">A3</text>
<text x="719.08" y="546.92" font-size="5" textLength="2.55" lengthAdjust="spacingAndGlyphs">4</text>
<text x="726.2" y="546.92" font-size="5.8" textLength="24.7" lengthAdjust="spacingAndGlyphs" class="l">Q235-A/16MnR</text>
<text x="756.15" y="546.92" font-size="5" textLength="1.89" lengthAdjust="spacingAndGlyphs">5</text>
<text x="763.98" y="546.92" font-size="5" textLength="4.05" lengthAdjust="spacingAndGlyphs">20</text>
<text x="635.78" y="554.2" font-size="5.4" textLength="5.63" lengthAdjust="spacingAndGlyphs">23</text>
<text x="648.65" y="554.2" font-size="5.8" textLength="25.6" lengthAdjust="spacingAndGlyphs" class="l">HG20613-97</text>
<text x="677.2" y="554.2" font-size="5.2" textLength="6.7" lengthAdjust="spacingAndGlyphs" class="c">螺栓</text>
<text x="685.39" y="554.2" font-size="5.8" textLength="17.35" lengthAdjust="spacingAndGlyphs" class="l">M20x140</text>
<text x="717.8" y="554.2" font-size="5" textLength="5.1" lengthAdjust="spacingAndGlyphs">20</text>
<text x="729.15" y="554.2" font-size="5.8" textLength="18.81" lengthAdjust="spacingAndGlyphs" class="l">35CrMoA</text>
<text x="753.32" y="554.2" font-size="5" textLength="7.57" lengthAdjust="spacingAndGlyphs">0.35</text>
<text x="762.96" y="554.2" font-size="5" textLength="6.07" lengthAdjust="spacingAndGlyphs">7.0</text>
<text x="635.78" y="561.48" font-size="5.4" textLength="5.63" lengthAdjust="spacingAndGlyphs">22</text>
<text x="677.2" y="561.48" font-size="5.2" textLength="5.27" lengthAdjust="spacingAndGlyphs" class="c">筒体</text>
<text x="683.73" y="561.48" font-size="5.8" textLength="30.97" lengthAdjust="spacingAndGlyphs" class="l">DN1200x12 H=2000</text>
<text x="719.08" y="561.48" font-size="5" textLength="2.55" lengthAdjust="spacingAndGlyphs">1</text>
<text x="731.41" y="561.48" font-size="5.8" textLength="14.28" lengthAdjust="spacingAndGlyphs" class="l">16MnR</text>
<text x="762.96" y="561.48" font-size="5" textLength="6.07" lengthAdjust="spacingAndGlyphs">720</text>
<text x="771.8" y="561.48" font-size="5.2" textLength="6.7" lengthAdjust="spacingAndGlyphs" class="c">外购</text>
<text x="635.78" y="568.77" font-size="5.4" textLength="5.63" lengthAdjust="spacingAndGlyphs">21</text>
<text x="648.65" y="568.77" font-size="5.8" textLength="25.6" lengthAdjust="spacingAndGlyphs" class="l">HG20613-97</text>
<text x="677.2" y="568.77" font-size="5.2" textLength="6.7" lengthAdjust="spacingAndGlyphs" class="c">螺栓</text>
<text x="685.39" y="568.77" font-size="5.8" textLength="14.97" lengthAdjust="spacingAndGlyphs" class="l">M16x65</text>
<text x="719.08" y="568.77" font-size="5" textLength="2.55" lengthAdjust="spacingAndGlyphs">8</text>
<text x="729.15" y="568.77" font-size="5.8" textLength="18.81" lengthAdjust="spacingAndGlyphs" class="l">35CrMoA</text>
<text x="753.32" y="568.77" font-size="5" textLength="7.57" lengthAdjust="spacingAndGlyphs">0.11</text>
<text x="761.95" y="568.77" font-size="5" textLength="8.1" lengthAdjust="spacingAndGlyphs">0.88</text>
<text x="635.78" y="576.05" font-size="5.4" textLength="5.63" lengthAdjust="spacingAndGlyphs">20</text>
<text x="648.65" y="576.05" font-size="5.8" textLength="25.6" lengthAdjust="spacingAndGlyphs" class="l">HG20613-97</text>
<text x="677.2" y="576.05" font-size="5.2" textLength="6.7" lengthAdjust="spacingAndGlyphs" class="c">螺母</text>
<text x="685.39" y="576.05" font-size="5.8" textLength="8.05" lengthAdjust="spacingAndGlyphs" class="l">M20</text>
<text x="717.8" y="576.05" font-size="5" textLength="5.1" lengthAdjust="spacingAndGlyphs">32</text>
<text x="730.66" y="576.05" font-size="5.8" textLength="15.79" lengthAdjust="spacingAndGlyphs" class="l">30CrMo</text>
<text x="753.32" y="576.05" font-size="5" textLength="7.57" lengthAdjust="spacingAndGlyphs">0.05</text>
<text x="762.96" y="576.05" font-size="5" textLength="6.07" lengthAdjust="spacingAndGlyphs">1.7</text>
<text x="635.78" y="583.33" font-size="5.4" textLength="5.63" lengthAdjust="spacingAndGlyphs">19</text>
<text x="658" y="583.33" font-size="5.2" textLength="7.1" lengthAdjust="spacingAndGlyphs" class="c">本图</text>
<text x="677.2" y="583.33" font-size="5.2" textLength="6.7" lengthAdjust="spacingAndGlyphs" class="c">吊耳</text>
<text x="685.59" y="583.33" font-size="5.2" textLength="3.1" lengthAdjust="spacingAndGlyphs" class="c">板</text>
<text x="719.08" y="583.33" font-size="5" textLength="2.55" lengthAdjust="spacingAndGlyphs">2</text>
<text x="731.41" y="583.33" font-size="5.8" textLength="14.28" lengthAdjust="spacingAndGlyphs" class="l">16MnR</text>
<text x="755.21" y="583.33" font-size="5" textLength="3.78" lengthAdjust="spacingAndGlyphs">28</text>
<text x="763.98" y="583.33" font-size="5" textLength="4.05" lengthAdjust="spacingAndGlyphs">56</text>
<text x="635.78" y="590.61" font-size="5.4" textLength="5.63" lengthAdjust="spacingAndGlyphs">18</text>
<text x="648.65" y="590.61" font-size="5.8" textLength="25.6" lengthAdjust="spacingAndGlyphs" class="l">HG20606-97</text>
<text x="677.2" y="590.61" font-size="5.2" textLength="6.24" lengthAdjust="spacingAndGlyphs" class="c">垫片</text>
<text x="684.85" y="590.61" font-size="5.8" textLength="29.85" lengthAdjust="spacingAndGlyphs" class="l">RF 500-0.6 0222</text>
<text x="719.08" y="590.61" font-size="5" textLength="2.55" lengthAdjust="spacingAndGlyphs">1</text>
<text x="726.2" y="590.61" font-size="5.8" textLength="18.48" lengthAdjust="spacingAndGlyphs" class="l">0Cr18Ni9+</text>
<text x="745.18" y="590.61" font-size="5.2" textLength="5.72" lengthAdjust="spacingAndGlyphs" class="c">石墨</text>
<text x="756.15" y="590.61" font-size="5" textLength="1.89" lengthAdjust="spacingAndGlyphs">/</text>
<text x="764.99" y="590.61" font-size="5" textLength="2.02" lengthAdjust="spacingAndGlyphs">/</text>
<text x="635.78" y="597.9" font-size="5.4" textLength="5.63" lengthAdjust="spacingAndGlyphs">17</text>
<text x="648.65" y="597.9" font-size="5.8" textLength="25.6" lengthAdjust="spacingAndGlyphs" class="l">JB/T4736-95</text>
<text x="677.2" y="597.9" font-size="5.2" textLength="10.3" lengthAdjust="spacingAndGlyphs" class="c">补强圈</text>
<text x="688.99" y="597.9" font-size="5.8" textLength="19.27" lengthAdjust="spacingAndGlyphs" class="l">dN500x12</text>
<text x="719.08" y="597.9" font-size="5" textLength="2.55" lengthAdjust="spacingAndGlyphs">1</text>
<text x="731.41" y="597.9" font-size="5.8" textLength="14.28" lengthAdjust="spacingAndGlyphs" class="l">16MnR</text>
<text x="755.21" y="597.9" font-size="5" textLength="3.78" lengthAdjust="spacingAndGlyphs">28</text>
<text x="763.98" y="597.9" font-size="5" textLength="4.05" lengthAdjust="spacingAndGlyphs">28</text>
<text x="635.78" y="605.18" font-size="5.4" textLength="5.63" lengthAdjust="spacingAndGlyphs">16</text>
<text x="677.2" y="605.18" font-size="5.2" textLength="6.7" lengthAdjust="spacingAndGlyphs" class="c">接管</text>
<text x="685.39" y="605.18" font-size="5.8" textLength="29.26" lengthAdjust="spacingAndGlyphs" class="l">Φ57x3.5 L=150</text>
<text x="719.08" y="605.18" font-size="5" textLength="2.55" lengthAdjust="spacingAndGlyphs">1</text>
<text x="736.18" y="605.18" font-size="5.8" textLength="4.73" lengthAdjust="spacingAndGlyphs" class="l">20</text>
<text x="761.95" y="605.18" font-size="5" textLength="8.1" lengthAdjust="spacingAndGlyphs">0.54</text>
<text x="635.78" y="612.46" font-size="5.4" textLength="5.63" lengthAdjust="spacingAndGlyphs">15</text>
<text x="648.65" y="612.46" font-size="5.8" textLength="25.6" lengthAdjust="spacingAndGlyphs" class="l">HG20613-97</text>
<text x="677.2" y="612.46" font-size="5.2" textLength="6.7" lengthAdjust="spacingAndGlyphs" class="c">螺栓</text>
<text x="685.39" y="612.46" font-size="5.8" textLength="17.35" lengthAdjust="spacingAndGlyphs" class="l">M16x100</text>
<text x="717.8" y="612.46" font-size="5" textLength="5.1" lengthAdjust="spacingAndGlyphs">16</text>
<text x="729.15" y="612.46" font-size="5.8" textLength="18.81" lengthAdjust="spacingAndGlyphs" class="l">35CrMoA</text>
<text x="753.32" y="612.46" font-size="5" textLength="7.57" lengthAdjust="spacingAndGlyphs">0.15</text>
<text x="761.95" y="612.46" font-size="5" textLength="8.1" lengthAdjust="spacingAndGlyphs">2.35</text>
<text x="635.78" y="619.74" font-size="5.4" textLength="5.63" lengthAdjust="spacingAndGlyphs">14</text>
<text x="648.65" y="619.74" font-size="5.8" textLength="25.6" lengthAdjust="spacingAndGlyphs" class="l">HG20592-97</text>
<text x="677.2" y="619.74" font-size="5.2" textLength="4.96" lengthAdjust="spacingAndGlyphs" class="c">法兰</text>
<text x="683.36" y="619.74" font-size="5.8" textLength="31.34" lengthAdjust="spacingAndGlyphs" class="l">PL500-0.6 RF 16MnR</text>
<text x="719.08" y="619.74" font-size="5" textLength="2.55" lengthAdjust="spacingAndGlyphs">4</text>
<text x="731.41" y="619.74" font-size="5.8" textLength="14.28" lengthAdjust="spacingAndGlyphs" class="l">16MnR</text>
<text x="754.26" y="619.74" font-size="5" textLength="5.68" lengthAdjust="spacingAndGlyphs">5.9</text>
<text x="761.95" y="619.74" font-size="5" textLength="8.1" lengthAdjust="spacingAndGlyphs">23.6</text>
<text x="771.6" y="619.74" font-size="5.6" textLength="16.96" lengthAdjust="spacingAndGlyphs" class="l">JB/T4726</text>
<text x="635.78" y="627.03" font-size="5.4" textLength="5.63" lengthAdjust="spacingAndGlyphs">13</text>
<text x="648.65" y="627.03" font-size="5.8" textLength="25.6" lengthAdjust="spacingAndGlyphs" class="l">HG20592-97</text>
<text x="677.2" y="627.03" font-size="5.2" textLength="6.7" lengthAdjust="spacingAndGlyphs" class="c">法兰</text>
<text x="685.39" y="627.03" font-size="5.8" textLength="26.42" lengthAdjust="spacingAndGlyphs" class="l">PL500-0.6 RF</text>
<text x="719.08" y="627.03" font-size="5" textLength="2.55" lengthAdjust="spacingAndGlyphs">1</text>
<text x="731.24" y="627.03" font-size="5.8" textLength="11.02" lengthAdjust="spacingAndGlyphs" class="l">16Mn</text>
<text x="742.76" y="627.03" font-size="5.2" textLength="3.1" lengthAdjust="spacingAndGlyphs" class="c">Ⅱ</text>
<text x="762.96" y="627.03" font-size="5" textLength="6.07" lengthAdjust="spacingAndGlyphs">111</text>
<text x="771.6" y="627.03" font-size="5.6" textLength="8.78" lengthAdjust="spacingAndGlyphs" class="l">δ=10</text>
<text x="635.78" y="634.31" font-size="5.4" textLength="5.63" lengthAdjust="spacingAndGlyphs">12</text>
<text x="649.28" y="634.31" font-size="5.8" textLength="24.34" lengthAdjust="spacingAndGlyphs" class="l">GB/T706-88</text>
<text x="677.2" y="634.31" font-size="5.2" textLength="6.7" lengthAdjust="spacingAndGlyphs" class="c">角钢</text>
<text x="685.39" y="634.31" font-size="5.8" textLength="18.31" lengthAdjust="spacingAndGlyphs" class="l">L50x50x5</text>
<text x="719.08" y="634.31" font-size="5" textLength="2.55" lengthAdjust="spacingAndGlyphs">8</text>
<text x="730.9" y="634.31" font-size="5.8" textLength="15.29" lengthAdjust="spacingAndGlyphs" class="l">Q235-A</text>
<text x="754.26" y="634.31" font-size="5" textLength="5.68" lengthAdjust="spacingAndGlyphs">4.8</text>
<text x="761.95" y="634.31" font-size="5" textLength="8.1" lengthAdjust="spacingAndGlyphs">38.2</text>
<text x="635.78" y="641.59" font-size="5.4" textLength="5.63" lengthAdjust="spacingAndGlyphs">11</text>
<text x="648.65" y="641.59" font-size="5.8" textLength="25.6" lengthAdjust="spacingAndGlyphs" class="l">HG20613-97</text>
<text x="677.2" y="641.59" font-size="5.2" textLength="6.7" lengthAdjust="spacingAndGlyphs" class="c">螺母</text>
<text x="685.39" y="641.59" font-size="5.8" textLength="8.05" lengthAdjust="spacingAndGlyphs" class="l">M16</text>
<text x="717.8" y="641.59" font-size="5" textLength="5.1" lengthAdjust="spacingAndGlyphs">16</text>
<text x="730.66" y="641.59" font-size="5.8" textLength="15.79" lengthAdjust="spacingAndGlyphs" class="l">30CrMo</text>
<text x="753.32" y="641.59" font-size="5" textLength="7.57" lengthAdjust="spacingAndGlyphs">0.03</text>
<text x="761.95" y="641.59" font-size="5" textLength="8.1" lengthAdjust="spacingAndGlyphs">0.48</text>
<text x="635.78" y="648.87" font-size="5.4" textLength="5.63" lengthAdjust="spacingAndGlyphs">10</text>
<text x="677.2" y="648.87" font-size="5.2" textLength="6.7" lengthAdjust="spacingAndGlyphs" class="c">封头</text>
<text x="685.39" y="648.87" font-size="5.8" textLength="24.99" lengthAdjust="spacingAndGlyphs" class="l">EHA1200x12</text>
<text x="719.08" y="648.87" font-size="5" textLength="2.55" lengthAdjust="spacingAndGlyphs">1</text>
<text x="731.41" y="648.87" font-size="5.8" textLength="14.28" lengthAdjust="spacingAndGlyphs" class="l">16MnR</text>
<text x="762.96" y="648.87" font-size="5" textLength="6.07" lengthAdjust="spacingAndGlyphs">280</text>
<text x="637.19" y="656.16" font-size="5.4" textLength="2.82" lengthAdjust="spacingAndGlyphs">9</text>
<text x="658" y="656.16" font-size="5.2" textLength="7.1" lengthAdjust="spacingAndGlyphs" class="c">本图</text>
<text x="677.2" y="656.16" font-size="5.2" textLength="6.7" lengthAdjust="spacingAndGlyphs" class="c">挡板</text>
<text x="719.08" y="656.16" font-size="5" textLength="2.55" lengthAdjust="spacingAndGlyphs">1</text>
<text x="730.9" y="656.16" font-size="5.8" textLength="15.29" lengthAdjust="spacingAndGlyphs" class="l">Q235-A</text>
<text x="762.96" y="656.16" font-size="5" textLength="6.07" lengthAdjust="spacingAndGlyphs">3.5</text>
<text x="637.19" y="663.44" font-size="5.4" textLength="2.82" lengthAdjust="spacingAndGlyphs">8</text>
<text x="677.2" y="663.44" font-size="5.2" textLength="6.49" lengthAdjust="spacingAndGlyphs" class="c">接管</text>
<text x="685.15" y="663.44" font-size="5.8" textLength="29.55" lengthAdjust="spacingAndGlyphs" class="l">Φ530x10 L=300</text>
<text x="719.08" y="663.44" font-size="5" textLength="2.55" lengthAdjust="spacingAndGlyphs">1</text>
<text x="736.18" y="663.44" font-size="5.8" textLength="4.73" lengthAdjust="spacingAndGlyphs" class="l">20</text>
<text x="761.95" y="663.44" font-size="5" textLength="8.1" lengthAdjust="spacingAndGlyphs">38.2</text>
<text x="637.19" y="670.72" font-size="5.4" textLength="2.82" lengthAdjust="spacingAndGlyphs">7</text>
<text x="648.65" y="670.72" font-size="5.8" textLength="25.6" lengthAdjust="spacingAndGlyphs" class="l">JB/T4725-92</text>
<text x="677.2" y="670.72" font-size="5.2" textLength="6.7" lengthAdjust="spacingAndGlyphs" class="c">耳座</text>
<text x="685.39" y="670.72" font-size="5.8" textLength="4.95" lengthAdjust="spacingAndGlyphs" class="l">A3</text>
<text x="719.08" y="670.72" font-size="5" textLength="2.55" lengthAdjust="spacingAndGlyphs">4</text>
<text x="726.2" y="670.72" font-size="5.8" textLength="24.7" lengthAdjust="spacingAndGlyphs" class="l">Q235-A/16MnR</text>
<text x="756.15" y="670.72" font-size="5" textLength="1.89" lengthAdjust="spacingAndGlyphs">5</text>
<text x="763.98" y="670.72" font-size="5" textLength="4.05" lengthAdjust="spacingAndGlyphs">20</text>
<text x="637.19" y="678" font-size="5.4" textLength="2.82" lengthAdjust="spacingAndGlyphs">6</text>
<text x="648.65" y="678" font-size="5.8" textLength="25.6" lengthAdjust="spacingAndGlyphs" class="l">HG20613-97</text>
<text x="677.2" y="678" font-size="5.2" textLength="6.7" lengthAdjust="spacingAndGlyphs" class="c">螺栓</text>
<text x="685.39" y="678" font-size="5.8" textLength="17.35" lengthAdjust="spacingAndGlyphs" class="l">M20x140</text>
<text x="717.8" y="678" font-size="5" textLength="5.1" lengthAdjust="spacingAndGlyphs">20</text>
<text x="729.15" y="678" font-size="5.8" textLength="18.81" lengthAdjust="spacingAndGlyphs" class="l">35CrMoA</text>
<text x="753.32" y="678" font-size="5" textLength="7.57" lengthAdjust="spacingAndGlyphs">0.35</text>
<text x="762.96" y="678" font-size="5" textLength="6.07" lengthAdjust="spacingAndGlyphs">7.0</text>
<text x="637.19" y="685.29" font-size="5.4" textLength="2.82" lengthAdjust="spacingAndGlyphs">5</text>
<text x="677.2" y="685.29" font-size="5.2" textLength="5.27" lengthAdjust="spacingAndGlyphs" class="c">筒体</text>
<text x="683.73" y="685.29" font-size="5.8" textLength="30.97" lengthAdjust="spacingAndGlyphs" class="l">DN1200x12 H=2000</text>
<text x="719.08" y="685.29" font-size="5" textLength="2.55" lengthAdjust="spacingAndGlyphs">1</text>
<text x="731.41" y="685.29" font-size="5.8" textLength="14.28" lengthAdjust="spacingAndGlyphs" class="l">16MnR</text>
<text x="762.96" y="685.29" font-size="5" textLength="6.07" lengthAdjust="spacingAndGlyphs">720</text>
<text x="771.8" y="685.29" font-size="5.2" textLength="6.7" lengthAdjust="spacingAndGlyphs" class="c">外购</text>
<text x="637.19" y="692.57" font-size="5.4" textLength="2.82" lengthAdjust="spacingAndGlyphs">4</text>
<text x="648.65" y="692.57" font-size="5.8" textLength="25.6" lengthAdjust="spacingAndGlyphs" class="l">HG20613-97</text>
<text x="677.2" y="692.57" font-size="5.2" textLength="6.7" lengthAdjust="spacingAndGlyphs" class="c">螺栓</text>
<text x="685.39" y="692.57" font-size="5.8" textLength="14.97" lengthAdjust="spacingAndGlyphs" class="l">M16x65</text>
<text x="719.08" y="692.57" font-size="5" textLength="2.55" lengthAdjust="spacingAndGlyphs">8</text>
<text x="729.15" y="692.57" font-size="5.8" textLength="18.81" lengthAdjust="spacingAndGlyphs" class="l">35CrMoA</text>
<text x="753.32" y="692.57" font-size="5" textLength="7.57" lengthAdjust="spacingAndGlyphs">0.11</text>
<text x="761.95" y="692.57" font-size="5" textLength="8.1" lengthAdjust="spacingAndGlyphs">0.88</text>
<text x="637.19" y="699.85" font-size="5.4" textLength="2.82" lengthAdjust="spacingAndGlyphs">3</text>
<text x="648.65" y="699.85" font-size="5.8" textLength="25.6" lengthAdjust="spacingAndGlyphs" class="l">HG20613-97</text>
<text x="677.2" y="699.85" font-size="5.2" textLength="6.7" lengthAdjust="spacingAndGlyphs" class="c">螺母</text>
<text x="685.39" y="699.85" font-size="5.8" textLength="8.05" lengthAdjust="spacingAndGlyphs" class="l">M20</text>
<text x="717.8" y="699.85" font-size="5" textLength="5.1" lengthAdjust="spacingAndGlyphs">32</text>
<text x="730.66" y="699.85" font-size="5.8" textLength="15.79" lengthAdjust="spacingAndGlyphs" class="l">30CrMo</text>
<text x="753.32" y="699.85" font-size="5" textLength="7.57" lengthAdjust="spacingAndGlyphs">0.05</text>
<text x="762.96" y="699.85" font-size="5" textLength="6.07" lengthAdjust="spacingAndGlyphs">1.7</text>
<text x="637.19" y="707.13" font-size="5.4" textLength="2.82" lengthAdjust="spacingAndGlyphs">2</text>
<text x="658" y="707.13" font-size="5.2" textLength="7.1" lengthAdjust="spacingAndGlyphs" class="c">本图</text>
<text x="677.2" y="707.13" font-size="5.2" textLength="6.7" lengthAdjust="spacingAndGlyphs" class="c">吊耳</text>
<text x="685.59" y="707.13" font-size="5.2" textLength="3.1" lengthAdjust="spacingAndGlyphs" class="c">板</text>
<text x="719.08" y="707.13" font-size="5" textLength="2.55" lengthAdjust="spacingAndGlyphs">2</text>
<text x="731.41" y="707.13" font-size="5.8" textLength="14.28" lengthAdjust="spacingAndGlyphs" class="l">16MnR</text>
<text x="755.21" y="707.13" font-size="5" textLength="3.78" lengthAdjust="spacingAndGlyphs">28</text>
<text x="763.98" y="707.13" font-size="5" textLength="4.05" lengthAdjust="spacingAndGlyphs">56</text>
<text x="637.19" y="714.42" font-size="5.4" textLength="2.82" lengthAdjust="spacingAndGlyphs">1</text>
<text x="648.65" y="714.42" font-size="5.8" textLength="25.6" lengthAdjust="spacingAndGlyphs" class="l">HG20606-97</text>
<text x="677.2" y="714.42" font-size="5.2" textLength="6.24" lengthAdjust="spacingAndGlyphs" class="c">垫片</text>
<text x="684.85" y="714.42" font-size="5.8" textLength="29.85" lengthAdjust="spacingAndGlyphs" class="l">RF 500-0.6 0222</text>
<text x="719.08" y="714.42" font-size="5" textLength="2.55" lengthAdjust="spacingAndGlyphs">1</text>
<text x="726.2" y="714.42" font-size="5.8" textLength="18.48" lengthAdjust="spacingAndGlyphs" class="l">0Cr18Ni9+</text>
<text x="745.18" y="714.42" font-size="5.2" textLength="5.72" lengthAdjust="spacingAndGlyphs" class="c">石墨</text>
<text x="756.15" y="714.42" font-size="5" textLength="1.89" lengthAdjust="spacingAndGlyphs">/</text>
<text x="764.99" y="714.42" font-size="5" textLength="2.02" lengthAdjust="spacingAndGlyphs">/</text>
<text x="632.5" y="724.8" font-size="5" textLength="3" lengthAdjust="spacingAndGlyphs">件</text>
<text x="637.5" y="724.8" font-size="5" textLength="3" lengthAdjust="spacingAndGlyphs">号</text>
<text x="656.49" y="724.8" font-size="5" textLength="10.22" lengthAdjust="spacingAndGlyphs">图号或标准号</text>
<text x="684" y="724.8" font-size="5" textLength="3" lengthAdjust="spacingAndGlyphs">名</text>
<text x="699" y="724.8" font-size="5" textLength="3" lengthAdjust="spacingAndGlyphs">称</text>
<text x="717.8" y="724.8" font-size="4.6" textLength="5.1" lengthAdjust="spacingAndGlyphs">数量</text>
<text x="730" y="724.8" font-size="5" textLength="3" lengthAdjust="spacingAndGlyphs">材</text>
<text x="741" y="724.8" font-size="5" textLength="3" lengthAdjust="spacingAndGlyphs">料</text>
<text x="755.81" y="719" font-size="3.6" textLength="2.58" lengthAdjust="spacingAndGlyphs">单</text>
<text x="764.62" y="719" font-size="3.6" textLength="2.76" lengthAdjust="spacingAndGlyphs">总</text>
<text x="754.58" y="725.8" font-size="4" textLength="14.24" lengthAdjust="spacingAndGlyphs">质量(kg)</text>
<text x="779.72" y="724.5" font-size="5" textLength="4.56" lengthAdjust="spacingAndGlyphs">备注</text>
<text x="730.7" y="731.3" font-size="4.6" textLength="25.5" lengthAdjust="spacingAndGlyphs" class="c">某石油化工设计院</text>
<text x="730.7" y="736.6" font-size="4.6" textLength="12.5" lengthAdjust="spacingAndGlyphs" class="c">工程名称</text>
<text x="762.2" y="736.6" font-size="4.6" textLength="19.3" lengthAdjust="spacingAndGlyphs" class="c">催化裂化装置</text>
<text x="730.7" y="741.9" font-size="4.6" textLength="2.68" lengthAdjust="spacingAndGlyphs" class="c">设</text>
<text x="734.97" y="741.9" font-size="4.6" textLength="2.68" lengthAdjust="spacingAndGlyphs" class="c">计</text>
<text x="739.24" y="741.9" font-size="4.6" textLength="2.68" lengthAdjust="spacingAndGlyphs" class="c">项</text>
<text x="743.52" y="741.9" font-size="4.6" textLength="2.68" lengthAdjust="spacingAndGlyphs" class="c">目</text>
<text x="751.2" y="741.9" font-size="4.6" textLength="6.1" lengthAdjust="spacingAndGlyphs" class="c">反应</text>
<text x="761.7" y="741.9" font-size="4.6" textLength="12.7" lengthAdjust="spacingAndGlyphs" class="c">设计阶段</text>
<text x="776.03" y="741.9" font-size="4.6" textLength="9.4" lengthAdjust="spacingAndGlyphs" class="c">施工图</text>
<text x="730.7" y="747.2" font-size="4.6" textLength="12.7" lengthAdjust="spacingAndGlyphs" class="c">外取热器</text>
<text x="745.03" y="747.2" font-size="4.6" textLength="9.4" lengthAdjust="spacingAndGlyphs" class="c">装配图</text>
<text x="761.7" y="747.2" font-size="4.6" textLength="2.8" lengthAdjust="spacingAndGlyphs" class="c">图</text>
<text x="766.13" y="747.2" font-size="4.6" textLength="2.8" lengthAdjust="spacingAndGlyphs" class="c">号</text>
<text x="771.48" y="747.2" font-size="5.2" textLength="10.75" lengthAdjust="spacingAndGlyphs" class="l">R-102</text>
<text x="730.7" y="753.5" font-size="4.6" textLength="2.8" lengthAdjust="spacingAndGlyphs" class="c">审</text>
<text x="736.25" y="753.5" font-size="4.6" textLength="2.8" lengthAdjust="spacingAndGlyphs" class="c">定</text>
<text x="730.7" y="758.3" font-size="4.6" textLength="6.1" lengthAdjust="spacingAndGlyphs" class="c">设备</text>
<text x="738.43" y="758.3" font-size="4.6" textLength="6.1" lengthAdjust="spacingAndGlyphs" class="c">总图</text>
<text x="781.2" y="754.5" font-size="4.6" textLength="6.1" lengthAdjust="spacingAndGlyphs" class="c">图号</text>
<text x="730.7" y="763.9" font-size="4.6" textLength="5.42" lengthAdjust="spacingAndGlyphs" class="c">比例</text>
<text x="737.43" y="763.9" font-size="5.2" textLength="6.77" lengthAdjust="spacingAndGlyphs" class="l">1:20</text>
<text x="747.2" y="763.9" font-size="4.6" textLength="2.8" lengthAdjust="spacingAndGlyphs" class="c">第</text>
<text x="751.43" y="763.9" font-size="5.2" textLength="1.96" lengthAdjust="spacingAndGlyphs" class="l">1</text>
<text x="761.7" y="763.9" font-size="4.6" textLength="2.26" lengthAdjust="spacingAndGlyphs" class="c">张</text>
<text x="765.4" y="763.9" font-size="4.6" textLength="2.26" lengthAdjust="spacingAndGlyphs" class="c">共</text>
<text x="768.91" y="763.9" font-size="5.2" textLength="1.59" lengthAdjust="spacingAndGlyphs" class="l">1</text>
<text x="771.94" y="763.9" font-size="4.6" textLength="2.26" lengthAdjust="spacingAndGlyphs" class="c">张</text>
<text x="778" y="763.9" font-size="5.2" textLength="8.7" lengthAdjust="spacingAndGlyphs" class="l">2009</text>
<text x="730.7" y="770" font-size="4.6" textLength="6.1" lengthAdjust="spacingAndGlyphs" class="c">日期</text>
<text x="738.23" y="770" font-size="5.2" textLength="4.21" lengthAdjust="spacingAndGlyphs" class="l">06</text>
<text x="761.7" y="770" font-size="4.6" textLength="6.1" lengthAdjust="spacingAndGlyphs" class="c">版次</text>
<text x="769.23" y="770" font-size="5.2" textLength="5.34" lengthAdjust="spacingAndGlyphs" class="l">0 1</text>
<text x="631.5" y="741.6" font-size="4.6" textLength="9.5" lengthAdjust="spacingAndGlyphs">设计</text>
<text x="631.5" y="747.4" font-size="4.6" textLength="9.5" lengthAdjust="spacingAndGlyphs">制图</text>
<text x="631.5" y="753" font-size="4.6" textLength="9.5" lengthAdjust="spacingAndGlyphs">校核</text>
<text x="631.5" y="758.6" font-size="4.6" textLength="9.5" lengthAdjust="spacingAndGlyphs">审核</text>
<text x="631.5" y="764.2" font-size="4.6" textLength="9.5" lengthAdjust="spacingAndGlyphs">审定</text>
<text x="631.5" y="769.8" font-size="4.6" textLength="9.5" lengthAdjust="spacingAndGlyphs">批准</text>
</g>
<g>
<text x="694.5" y="751" font-size="4.6" textLength="15" lengthAdjust="spacingAndGlyphs" fill="#7c7c7c">外取热器</text>
<text x="694.5" y="766.8" font-size="4.4" textLength="13" lengthAdjust="spacingAndGlyphs" fill="#6e6e6e">装配图</text>
</g>
</svg>
</body></html>
